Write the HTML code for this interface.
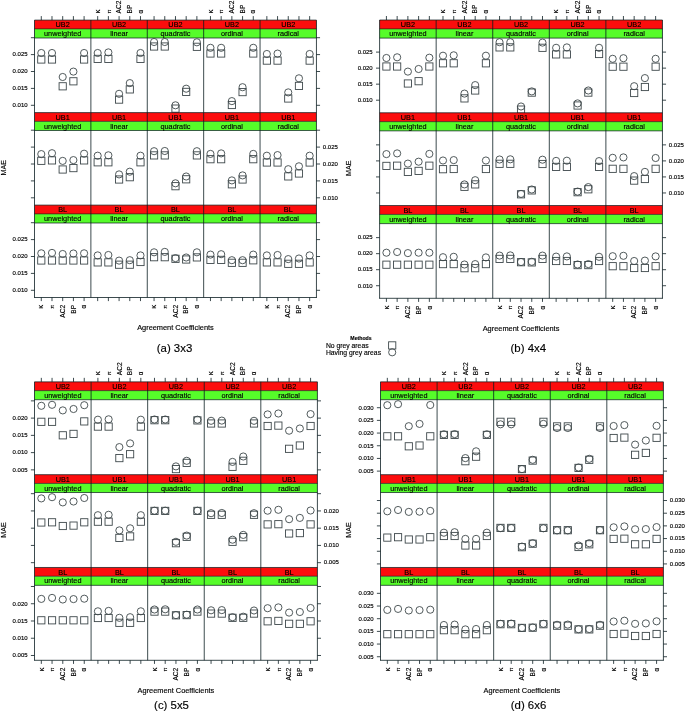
<!DOCTYPE html>
<html lang="en"><head><meta charset="utf-8"><title>MAE of agreement coefficients</title>
<style>
html,body{margin:0;padding:0;background:#fff;}
body{width:685px;height:712px;overflow:hidden;}
svg{display:block;font-family:"Liberation Sans", sans-serif;}
</style></head><body>
<svg width="685" height="712" viewBox="0 0 685 712">
<defs><filter id="soft" x="0" y="0" width="685" height="712" filterUnits="userSpaceOnUse"><feGaussianBlur stdDeviation="0.25"/></filter></defs>
<rect width="685" height="712" fill="#fff"/>
<g filter="url(#soft)">
<rect width="685" height="712" fill="#fff"/>
<g id="fig-a">
<rect x="34.5" y="20.1" width="281.95" height="8.95" fill="#fc1009"/>
<rect x="34.5" y="29.05" width="281.95" height="8.95" fill="#57fc2a"/>
<line x1="34.5" y1="20.1" x2="316.45" y2="20.1" stroke="rgba(6,24,30,0.78)" stroke-width="0.9"/>
<line x1="34.5" y1="28.9" x2="316.45" y2="28.9" stroke="rgba(6,24,30,0.78)" stroke-width="0.8"/>
<line x1="34.5" y1="38" x2="316.45" y2="38" stroke="rgba(6,24,30,0.78)" stroke-width="0.9"/>
<line x1="30.9" y1="37.7" x2="34.5" y2="37.7" stroke="rgba(6,24,30,0.78)" stroke-width="1"/>
<line x1="316.45" y1="37.7" x2="320.05" y2="37.7" stroke="rgba(6,24,30,0.78)" stroke-width="1"/>
<line x1="30.9" y1="54.6" x2="34.5" y2="54.6" stroke="rgba(6,24,30,0.78)" stroke-width="1"/>
<line x1="316.45" y1="54.6" x2="320.05" y2="54.6" stroke="rgba(6,24,30,0.78)" stroke-width="1"/>
<line x1="30.9" y1="71.5" x2="34.5" y2="71.5" stroke="rgba(6,24,30,0.78)" stroke-width="1"/>
<line x1="316.45" y1="71.5" x2="320.05" y2="71.5" stroke="rgba(6,24,30,0.78)" stroke-width="1"/>
<line x1="30.9" y1="88.4" x2="34.5" y2="88.4" stroke="rgba(6,24,30,0.78)" stroke-width="1"/>
<line x1="316.45" y1="88.4" x2="320.05" y2="88.4" stroke="rgba(6,24,30,0.78)" stroke-width="1"/>
<line x1="30.9" y1="105.3" x2="34.5" y2="105.3" stroke="rgba(6,24,30,0.78)" stroke-width="1"/>
<line x1="316.45" y1="105.3" x2="320.05" y2="105.3" stroke="rgba(6,24,30,0.78)" stroke-width="1"/>
<text x="27.6" y="56.4" font-size="6.0" text-anchor="end" fill="#000" stroke="#000" stroke-width="0.15">0.025</text>
<text x="27.6" y="73.3" font-size="6.0" text-anchor="end" fill="#000" stroke="#000" stroke-width="0.15">0.020</text>
<text x="27.6" y="90.2" font-size="6.0" text-anchor="end" fill="#000" stroke="#000" stroke-width="0.15">0.015</text>
<text x="27.6" y="107.1" font-size="6.0" text-anchor="end" fill="#000" stroke="#000" stroke-width="0.15">0.010</text>
<text x="62.7" y="27.18" font-size="7.3" text-anchor="middle" fill="#000" stroke="#000" stroke-width="0.13">UB2</text>
<text x="62.7" y="36.12" font-size="7.3" text-anchor="middle" fill="#000" stroke="#000" stroke-width="0.13">unweighted</text>
<line x1="41.29" y1="16.1" x2="41.29" y2="20.1" stroke="rgba(6,24,30,0.78)" stroke-width="1"/>
<rect x="37.69" y="55.9" width="7.2" height="7.2" fill="none" stroke="#3e484b" stroke-width="0.9"/>
<circle cx="41.29" cy="53" r="3.58" fill="none" stroke="#3e484b" stroke-width="0.9"/>
<line x1="51.99" y1="16.1" x2="51.99" y2="20.1" stroke="rgba(6,24,30,0.78)" stroke-width="1"/>
<rect x="48.39" y="55.9" width="7.2" height="7.2" fill="none" stroke="#3e484b" stroke-width="0.9"/>
<circle cx="51.99" cy="53" r="3.58" fill="none" stroke="#3e484b" stroke-width="0.9"/>
<line x1="62.7" y1="16.1" x2="62.7" y2="20.1" stroke="rgba(6,24,30,0.78)" stroke-width="1"/>
<rect x="59.09" y="82.7" width="7.2" height="7.2" fill="none" stroke="#3e484b" stroke-width="0.9"/>
<circle cx="62.7" cy="77" r="3.58" fill="none" stroke="#3e484b" stroke-width="0.9"/>
<line x1="73.4" y1="16.1" x2="73.4" y2="20.1" stroke="rgba(6,24,30,0.78)" stroke-width="1"/>
<rect x="69.8" y="77.7" width="7.2" height="7.2" fill="none" stroke="#3e484b" stroke-width="0.9"/>
<circle cx="73.4" cy="71.6" r="3.58" fill="none" stroke="#3e484b" stroke-width="0.9"/>
<line x1="84.1" y1="16.1" x2="84.1" y2="20.1" stroke="rgba(6,24,30,0.78)" stroke-width="1"/>
<rect x="80.5" y="55.9" width="7.2" height="7.2" fill="none" stroke="#3e484b" stroke-width="0.9"/>
<circle cx="84.1" cy="53" r="3.58" fill="none" stroke="#3e484b" stroke-width="0.9"/>
<text x="119.09" y="27.18" font-size="7.3" text-anchor="middle" fill="#000" stroke="#000" stroke-width="0.13">UB2</text>
<text x="119.09" y="36.12" font-size="7.3" text-anchor="middle" fill="#000" stroke="#000" stroke-width="0.13">linear</text>
<line x1="97.68" y1="16.1" x2="97.68" y2="20.1" stroke="rgba(6,24,30,0.78)" stroke-width="1"/>
<text x="99.88" y="13.5" font-size="7.8" transform="rotate(-90 99.88 13.5)" fill="#000" stroke="#000" stroke-width="0.15">κ</text>
<rect x="94.08" y="55.3" width="7.2" height="7.2" fill="none" stroke="#3e484b" stroke-width="0.9"/>
<circle cx="97.68" cy="53" r="3.58" fill="none" stroke="#3e484b" stroke-width="0.9"/>
<line x1="108.38" y1="16.1" x2="108.38" y2="20.1" stroke="rgba(6,24,30,0.78)" stroke-width="1"/>
<text x="110.58" y="13.5" font-size="5.6" transform="rotate(-90 110.58 13.5)" fill="#000" stroke="#000" stroke-width="0.15">π</text>
<rect x="104.78" y="55.3" width="7.2" height="7.2" fill="none" stroke="#3e484b" stroke-width="0.9"/>
<circle cx="108.38" cy="52.4" r="3.58" fill="none" stroke="#3e484b" stroke-width="0.9"/>
<line x1="119.09" y1="16.1" x2="119.09" y2="20.1" stroke="rgba(6,24,30,0.78)" stroke-width="1"/>
<text x="121.29" y="13.5" font-size="6.6" transform="rotate(-90 121.29 13.5)" fill="#000" stroke="#000" stroke-width="0.15">AC2</text>
<rect x="115.49" y="96" width="7.2" height="7.2" fill="none" stroke="#3e484b" stroke-width="0.9"/>
<circle cx="119.09" cy="93.8" r="3.58" fill="none" stroke="#3e484b" stroke-width="0.9"/>
<line x1="129.79" y1="16.1" x2="129.79" y2="20.1" stroke="rgba(6,24,30,0.78)" stroke-width="1"/>
<text x="131.99" y="13.5" font-size="6.6" transform="rotate(-90 131.99 13.5)" fill="#000" stroke="#000" stroke-width="0.15">BP</text>
<rect x="126.19" y="85.8" width="7.2" height="7.2" fill="none" stroke="#3e484b" stroke-width="0.9"/>
<circle cx="129.79" cy="83.1" r="3.58" fill="none" stroke="#3e484b" stroke-width="0.9"/>
<line x1="140.49" y1="16.1" x2="140.49" y2="20.1" stroke="rgba(6,24,30,0.78)" stroke-width="1"/>
<text x="142.69" y="13.5" font-size="6.4" transform="rotate(-90 142.69 13.5)" fill="#000" stroke="#000" stroke-width="0.15">α</text>
<rect x="136.89" y="55.3" width="7.2" height="7.2" fill="none" stroke="#3e484b" stroke-width="0.9"/>
<circle cx="140.49" cy="53" r="3.58" fill="none" stroke="#3e484b" stroke-width="0.9"/>
<text x="175.47" y="27.18" font-size="7.3" text-anchor="middle" fill="#000" stroke="#000" stroke-width="0.13">UB2</text>
<text x="175.47" y="36.12" font-size="7.3" text-anchor="middle" fill="#000" stroke="#000" stroke-width="0.13">quadratic</text>
<line x1="154.07" y1="16.1" x2="154.07" y2="20.1" stroke="rgba(6,24,30,0.78)" stroke-width="1"/>
<rect x="150.47" y="42.9" width="7.2" height="7.2" fill="none" stroke="#3e484b" stroke-width="0.9"/>
<circle cx="154.07" cy="42" r="3.58" fill="none" stroke="#3e484b" stroke-width="0.9"/>
<line x1="164.77" y1="16.1" x2="164.77" y2="20.1" stroke="rgba(6,24,30,0.78)" stroke-width="1"/>
<rect x="161.17" y="42.9" width="7.2" height="7.2" fill="none" stroke="#3e484b" stroke-width="0.9"/>
<circle cx="164.77" cy="42" r="3.58" fill="none" stroke="#3e484b" stroke-width="0.9"/>
<line x1="175.47" y1="16.1" x2="175.47" y2="20.1" stroke="rgba(6,24,30,0.78)" stroke-width="1"/>
<rect x="171.88" y="105" width="7.2" height="7.2" fill="none" stroke="#3e484b" stroke-width="0.9"/>
<circle cx="175.47" cy="105.3" r="3.58" fill="none" stroke="#3e484b" stroke-width="0.9"/>
<line x1="186.18" y1="16.1" x2="186.18" y2="20.1" stroke="rgba(6,24,30,0.78)" stroke-width="1"/>
<rect x="182.58" y="88.3" width="7.2" height="7.2" fill="none" stroke="#3e484b" stroke-width="0.9"/>
<circle cx="186.18" cy="88.7" r="3.58" fill="none" stroke="#3e484b" stroke-width="0.9"/>
<line x1="196.88" y1="16.1" x2="196.88" y2="20.1" stroke="rgba(6,24,30,0.78)" stroke-width="1"/>
<rect x="193.28" y="43.2" width="7.2" height="7.2" fill="none" stroke="#3e484b" stroke-width="0.9"/>
<circle cx="196.88" cy="42.3" r="3.58" fill="none" stroke="#3e484b" stroke-width="0.9"/>
<text x="231.87" y="27.18" font-size="7.3" text-anchor="middle" fill="#000" stroke="#000" stroke-width="0.13">UB2</text>
<text x="231.87" y="36.12" font-size="7.3" text-anchor="middle" fill="#000" stroke="#000" stroke-width="0.13">ordinal</text>
<line x1="210.46" y1="16.1" x2="210.46" y2="20.1" stroke="rgba(6,24,30,0.78)" stroke-width="1"/>
<text x="212.66" y="13.5" font-size="7.8" transform="rotate(-90 212.66 13.5)" fill="#000" stroke="#000" stroke-width="0.15">κ</text>
<rect x="206.86" y="49.9" width="7.2" height="7.2" fill="none" stroke="#3e484b" stroke-width="0.9"/>
<circle cx="210.46" cy="47.8" r="3.58" fill="none" stroke="#3e484b" stroke-width="0.9"/>
<line x1="221.16" y1="16.1" x2="221.16" y2="20.1" stroke="rgba(6,24,30,0.78)" stroke-width="1"/>
<text x="223.36" y="13.5" font-size="5.6" transform="rotate(-90 223.36 13.5)" fill="#000" stroke="#000" stroke-width="0.15">π</text>
<rect x="217.56" y="49.9" width="7.2" height="7.2" fill="none" stroke="#3e484b" stroke-width="0.9"/>
<circle cx="221.16" cy="47.8" r="3.58" fill="none" stroke="#3e484b" stroke-width="0.9"/>
<line x1="231.87" y1="16.1" x2="231.87" y2="20.1" stroke="rgba(6,24,30,0.78)" stroke-width="1"/>
<text x="234.06" y="13.5" font-size="6.6" transform="rotate(-90 234.06 13.5)" fill="#000" stroke="#000" stroke-width="0.15">AC2</text>
<rect x="228.27" y="101.4" width="7.2" height="7.2" fill="none" stroke="#3e484b" stroke-width="0.9"/>
<circle cx="231.87" cy="101.1" r="3.58" fill="none" stroke="#3e484b" stroke-width="0.9"/>
<line x1="242.57" y1="16.1" x2="242.57" y2="20.1" stroke="rgba(6,24,30,0.78)" stroke-width="1"/>
<text x="244.77" y="13.5" font-size="6.6" transform="rotate(-90 244.77 13.5)" fill="#000" stroke="#000" stroke-width="0.15">BP</text>
<rect x="238.97" y="88.5" width="7.2" height="7.2" fill="none" stroke="#3e484b" stroke-width="0.9"/>
<circle cx="242.57" cy="87.2" r="3.58" fill="none" stroke="#3e484b" stroke-width="0.9"/>
<line x1="253.27" y1="16.1" x2="253.27" y2="20.1" stroke="rgba(6,24,30,0.78)" stroke-width="1"/>
<text x="255.47" y="13.5" font-size="6.4" transform="rotate(-90 255.47 13.5)" fill="#000" stroke="#000" stroke-width="0.15">α</text>
<rect x="249.67" y="49.9" width="7.2" height="7.2" fill="none" stroke="#3e484b" stroke-width="0.9"/>
<circle cx="253.27" cy="47.8" r="3.58" fill="none" stroke="#3e484b" stroke-width="0.9"/>
<text x="288.25" y="27.18" font-size="7.3" text-anchor="middle" fill="#000" stroke="#000" stroke-width="0.13">UB2</text>
<text x="288.25" y="36.12" font-size="7.3" text-anchor="middle" fill="#000" stroke="#000" stroke-width="0.13">radical</text>
<line x1="266.85" y1="16.1" x2="266.85" y2="20.1" stroke="rgba(6,24,30,0.78)" stroke-width="1"/>
<rect x="263.25" y="57" width="7.2" height="7.2" fill="none" stroke="#3e484b" stroke-width="0.9"/>
<circle cx="266.85" cy="54" r="3.58" fill="none" stroke="#3e484b" stroke-width="0.9"/>
<line x1="277.55" y1="16.1" x2="277.55" y2="20.1" stroke="rgba(6,24,30,0.78)" stroke-width="1"/>
<rect x="273.95" y="57" width="7.2" height="7.2" fill="none" stroke="#3e484b" stroke-width="0.9"/>
<circle cx="277.55" cy="53.6" r="3.58" fill="none" stroke="#3e484b" stroke-width="0.9"/>
<line x1="288.25" y1="16.1" x2="288.25" y2="20.1" stroke="rgba(6,24,30,0.78)" stroke-width="1"/>
<rect x="284.65" y="94.9" width="7.2" height="7.2" fill="none" stroke="#3e484b" stroke-width="0.9"/>
<circle cx="288.25" cy="92.4" r="3.58" fill="none" stroke="#3e484b" stroke-width="0.9"/>
<line x1="298.96" y1="16.1" x2="298.96" y2="20.1" stroke="rgba(6,24,30,0.78)" stroke-width="1"/>
<rect x="295.36" y="82.3" width="7.2" height="7.2" fill="none" stroke="#3e484b" stroke-width="0.9"/>
<circle cx="298.96" cy="78.3" r="3.58" fill="none" stroke="#3e484b" stroke-width="0.9"/>
<line x1="309.66" y1="16.1" x2="309.66" y2="20.1" stroke="rgba(6,24,30,0.78)" stroke-width="1"/>
<rect x="306.06" y="57" width="7.2" height="7.2" fill="none" stroke="#3e484b" stroke-width="0.9"/>
<circle cx="309.66" cy="54" r="3.58" fill="none" stroke="#3e484b" stroke-width="0.9"/>
<rect x="34.5" y="112.6" width="281.95" height="8.95" fill="#fc1009"/>
<rect x="34.5" y="121.55" width="281.95" height="8.95" fill="#57fc2a"/>
<line x1="34.5" y1="112.6" x2="316.45" y2="112.6" stroke="rgba(6,24,30,0.78)" stroke-width="0.9"/>
<line x1="34.5" y1="121.4" x2="316.45" y2="121.4" stroke="rgba(6,24,30,0.78)" stroke-width="0.8"/>
<line x1="34.5" y1="130.5" x2="316.45" y2="130.5" stroke="rgba(6,24,30,0.78)" stroke-width="0.9"/>
<line x1="30.9" y1="130.2" x2="34.5" y2="130.2" stroke="rgba(6,24,30,0.78)" stroke-width="1"/>
<line x1="316.45" y1="130.2" x2="320.05" y2="130.2" stroke="rgba(6,24,30,0.78)" stroke-width="1"/>
<line x1="30.9" y1="147.1" x2="34.5" y2="147.1" stroke="rgba(6,24,30,0.78)" stroke-width="1"/>
<line x1="316.45" y1="147.1" x2="320.05" y2="147.1" stroke="rgba(6,24,30,0.78)" stroke-width="1"/>
<line x1="30.9" y1="164" x2="34.5" y2="164" stroke="rgba(6,24,30,0.78)" stroke-width="1"/>
<line x1="316.45" y1="164" x2="320.05" y2="164" stroke="rgba(6,24,30,0.78)" stroke-width="1"/>
<line x1="30.9" y1="180.9" x2="34.5" y2="180.9" stroke="rgba(6,24,30,0.78)" stroke-width="1"/>
<line x1="316.45" y1="180.9" x2="320.05" y2="180.9" stroke="rgba(6,24,30,0.78)" stroke-width="1"/>
<line x1="30.9" y1="197.8" x2="34.5" y2="197.8" stroke="rgba(6,24,30,0.78)" stroke-width="1"/>
<line x1="316.45" y1="197.8" x2="320.05" y2="197.8" stroke="rgba(6,24,30,0.78)" stroke-width="1"/>
<text x="322.85" y="148.9" font-size="6.0" fill="#000" stroke="#000" stroke-width="0.15">0.025</text>
<text x="322.85" y="165.8" font-size="6.0" fill="#000" stroke="#000" stroke-width="0.15">0.020</text>
<text x="322.85" y="182.7" font-size="6.0" fill="#000" stroke="#000" stroke-width="0.15">0.015</text>
<text x="322.85" y="199.6" font-size="6.0" fill="#000" stroke="#000" stroke-width="0.15">0.010</text>
<text x="62.7" y="119.67" font-size="7.3" text-anchor="middle" fill="#000" stroke="#000" stroke-width="0.13">UB1</text>
<text x="62.7" y="128.62" font-size="7.3" text-anchor="middle" fill="#000" stroke="#000" stroke-width="0.13">unweighted</text>
<rect x="37.69" y="157.2" width="7.2" height="7.2" fill="none" stroke="#3e484b" stroke-width="0.9"/>
<circle cx="41.29" cy="154.1" r="3.58" fill="none" stroke="#3e484b" stroke-width="0.9"/>
<rect x="48.39" y="156.8" width="7.2" height="7.2" fill="none" stroke="#3e484b" stroke-width="0.9"/>
<circle cx="51.99" cy="153.2" r="3.58" fill="none" stroke="#3e484b" stroke-width="0.9"/>
<rect x="59.09" y="165.9" width="7.2" height="7.2" fill="none" stroke="#3e484b" stroke-width="0.9"/>
<circle cx="62.7" cy="160.9" r="3.58" fill="none" stroke="#3e484b" stroke-width="0.9"/>
<rect x="69.8" y="164.5" width="7.2" height="7.2" fill="none" stroke="#3e484b" stroke-width="0.9"/>
<circle cx="73.4" cy="160.1" r="3.58" fill="none" stroke="#3e484b" stroke-width="0.9"/>
<rect x="80.5" y="156.8" width="7.2" height="7.2" fill="none" stroke="#3e484b" stroke-width="0.9"/>
<circle cx="84.1" cy="153.7" r="3.58" fill="none" stroke="#3e484b" stroke-width="0.9"/>
<text x="119.09" y="119.67" font-size="7.3" text-anchor="middle" fill="#000" stroke="#000" stroke-width="0.13">UB1</text>
<text x="119.09" y="128.62" font-size="7.3" text-anchor="middle" fill="#000" stroke="#000" stroke-width="0.13">linear</text>
<rect x="94.08" y="158.7" width="7.2" height="7.2" fill="none" stroke="#3e484b" stroke-width="0.9"/>
<circle cx="97.68" cy="155.7" r="3.58" fill="none" stroke="#3e484b" stroke-width="0.9"/>
<rect x="104.78" y="158.7" width="7.2" height="7.2" fill="none" stroke="#3e484b" stroke-width="0.9"/>
<circle cx="108.38" cy="155.3" r="3.58" fill="none" stroke="#3e484b" stroke-width="0.9"/>
<rect x="115.49" y="175.9" width="7.2" height="7.2" fill="none" stroke="#3e484b" stroke-width="0.9"/>
<circle cx="119.09" cy="174.4" r="3.58" fill="none" stroke="#3e484b" stroke-width="0.9"/>
<rect x="126.19" y="173.6" width="7.2" height="7.2" fill="none" stroke="#3e484b" stroke-width="0.9"/>
<circle cx="129.79" cy="171.7" r="3.58" fill="none" stroke="#3e484b" stroke-width="0.9"/>
<rect x="136.89" y="158.7" width="7.2" height="7.2" fill="none" stroke="#3e484b" stroke-width="0.9"/>
<circle cx="140.49" cy="155.7" r="3.58" fill="none" stroke="#3e484b" stroke-width="0.9"/>
<text x="175.47" y="119.67" font-size="7.3" text-anchor="middle" fill="#000" stroke="#000" stroke-width="0.13">UB1</text>
<text x="175.47" y="128.62" font-size="7.3" text-anchor="middle" fill="#000" stroke="#000" stroke-width="0.13">quadratic</text>
<rect x="150.47" y="151.8" width="7.2" height="7.2" fill="none" stroke="#3e484b" stroke-width="0.9"/>
<circle cx="154.07" cy="151.2" r="3.58" fill="none" stroke="#3e484b" stroke-width="0.9"/>
<rect x="161.17" y="151.8" width="7.2" height="7.2" fill="none" stroke="#3e484b" stroke-width="0.9"/>
<circle cx="164.77" cy="151" r="3.58" fill="none" stroke="#3e484b" stroke-width="0.9"/>
<rect x="171.88" y="182.6" width="7.2" height="7.2" fill="none" stroke="#3e484b" stroke-width="0.9"/>
<circle cx="175.47" cy="183.3" r="3.58" fill="none" stroke="#3e484b" stroke-width="0.9"/>
<rect x="182.58" y="175.7" width="7.2" height="7.2" fill="none" stroke="#3e484b" stroke-width="0.9"/>
<circle cx="186.18" cy="176.5" r="3.58" fill="none" stroke="#3e484b" stroke-width="0.9"/>
<rect x="193.28" y="151.8" width="7.2" height="7.2" fill="none" stroke="#3e484b" stroke-width="0.9"/>
<circle cx="196.88" cy="151.2" r="3.58" fill="none" stroke="#3e484b" stroke-width="0.9"/>
<text x="231.87" y="119.67" font-size="7.3" text-anchor="middle" fill="#000" stroke="#000" stroke-width="0.13">UB1</text>
<text x="231.87" y="128.62" font-size="7.3" text-anchor="middle" fill="#000" stroke="#000" stroke-width="0.13">ordinal</text>
<rect x="206.86" y="155.6" width="7.2" height="7.2" fill="none" stroke="#3e484b" stroke-width="0.9"/>
<circle cx="210.46" cy="153.9" r="3.58" fill="none" stroke="#3e484b" stroke-width="0.9"/>
<rect x="217.56" y="155.6" width="7.2" height="7.2" fill="none" stroke="#3e484b" stroke-width="0.9"/>
<circle cx="221.16" cy="153.4" r="3.58" fill="none" stroke="#3e484b" stroke-width="0.9"/>
<rect x="228.27" y="180.7" width="7.2" height="7.2" fill="none" stroke="#3e484b" stroke-width="0.9"/>
<circle cx="231.87" cy="180.4" r="3.58" fill="none" stroke="#3e484b" stroke-width="0.9"/>
<rect x="238.97" y="175.9" width="7.2" height="7.2" fill="none" stroke="#3e484b" stroke-width="0.9"/>
<circle cx="242.57" cy="175.4" r="3.58" fill="none" stroke="#3e484b" stroke-width="0.9"/>
<rect x="249.67" y="155.6" width="7.2" height="7.2" fill="none" stroke="#3e484b" stroke-width="0.9"/>
<circle cx="253.27" cy="153.9" r="3.58" fill="none" stroke="#3e484b" stroke-width="0.9"/>
<text x="288.25" y="119.67" font-size="7.3" text-anchor="middle" fill="#000" stroke="#000" stroke-width="0.13">UB1</text>
<text x="288.25" y="128.62" font-size="7.3" text-anchor="middle" fill="#000" stroke="#000" stroke-width="0.13">radical</text>
<rect x="263.25" y="158.9" width="7.2" height="7.2" fill="none" stroke="#3e484b" stroke-width="0.9"/>
<circle cx="266.85" cy="155.7" r="3.58" fill="none" stroke="#3e484b" stroke-width="0.9"/>
<rect x="273.95" y="158.9" width="7.2" height="7.2" fill="none" stroke="#3e484b" stroke-width="0.9"/>
<circle cx="277.55" cy="155.1" r="3.58" fill="none" stroke="#3e484b" stroke-width="0.9"/>
<rect x="284.65" y="172.8" width="7.2" height="7.2" fill="none" stroke="#3e484b" stroke-width="0.9"/>
<circle cx="288.25" cy="169.2" r="3.58" fill="none" stroke="#3e484b" stroke-width="0.9"/>
<rect x="295.36" y="169.9" width="7.2" height="7.2" fill="none" stroke="#3e484b" stroke-width="0.9"/>
<circle cx="298.96" cy="166.3" r="3.58" fill="none" stroke="#3e484b" stroke-width="0.9"/>
<rect x="306.06" y="158.9" width="7.2" height="7.2" fill="none" stroke="#3e484b" stroke-width="0.9"/>
<circle cx="309.66" cy="155.7" r="3.58" fill="none" stroke="#3e484b" stroke-width="0.9"/>
<rect x="34.5" y="205.1" width="281.95" height="8.95" fill="#fc1009"/>
<rect x="34.5" y="214.05" width="281.95" height="8.95" fill="#57fc2a"/>
<line x1="34.5" y1="205.1" x2="316.45" y2="205.1" stroke="rgba(6,24,30,0.78)" stroke-width="0.9"/>
<line x1="34.5" y1="213.9" x2="316.45" y2="213.9" stroke="rgba(6,24,30,0.78)" stroke-width="0.8"/>
<line x1="34.5" y1="223" x2="316.45" y2="223" stroke="rgba(6,24,30,0.78)" stroke-width="0.9"/>
<line x1="30.9" y1="222.7" x2="34.5" y2="222.7" stroke="rgba(6,24,30,0.78)" stroke-width="1"/>
<line x1="316.45" y1="222.7" x2="320.05" y2="222.7" stroke="rgba(6,24,30,0.78)" stroke-width="1"/>
<line x1="30.9" y1="239.6" x2="34.5" y2="239.6" stroke="rgba(6,24,30,0.78)" stroke-width="1"/>
<line x1="316.45" y1="239.6" x2="320.05" y2="239.6" stroke="rgba(6,24,30,0.78)" stroke-width="1"/>
<line x1="30.9" y1="256.5" x2="34.5" y2="256.5" stroke="rgba(6,24,30,0.78)" stroke-width="1"/>
<line x1="316.45" y1="256.5" x2="320.05" y2="256.5" stroke="rgba(6,24,30,0.78)" stroke-width="1"/>
<line x1="30.9" y1="273.4" x2="34.5" y2="273.4" stroke="rgba(6,24,30,0.78)" stroke-width="1"/>
<line x1="316.45" y1="273.4" x2="320.05" y2="273.4" stroke="rgba(6,24,30,0.78)" stroke-width="1"/>
<line x1="30.9" y1="290.3" x2="34.5" y2="290.3" stroke="rgba(6,24,30,0.78)" stroke-width="1"/>
<line x1="316.45" y1="290.3" x2="320.05" y2="290.3" stroke="rgba(6,24,30,0.78)" stroke-width="1"/>
<text x="27.6" y="241.4" font-size="6.0" text-anchor="end" fill="#000" stroke="#000" stroke-width="0.15">0.025</text>
<text x="27.6" y="258.3" font-size="6.0" text-anchor="end" fill="#000" stroke="#000" stroke-width="0.15">0.020</text>
<text x="27.6" y="275.2" font-size="6.0" text-anchor="end" fill="#000" stroke="#000" stroke-width="0.15">0.015</text>
<text x="27.6" y="292.1" font-size="6.0" text-anchor="end" fill="#000" stroke="#000" stroke-width="0.15">0.010</text>
<text x="62.7" y="212.17" font-size="7.3" text-anchor="middle" fill="#000" stroke="#000" stroke-width="0.13">BL</text>
<text x="62.7" y="221.12" font-size="7.3" text-anchor="middle" fill="#000" stroke="#000" stroke-width="0.13">unweighted</text>
<line x1="41.29" y1="297.5" x2="41.29" y2="301.1" stroke="rgba(6,24,30,0.78)" stroke-width="1"/>
<text x="43.49" y="304.9" font-size="7.8" text-anchor="end" transform="rotate(-90 43.49 304.9)" fill="#000" stroke="#000" stroke-width="0.15">κ</text>
<rect x="37.69" y="256.9" width="7.2" height="7.2" fill="none" stroke="#3e484b" stroke-width="0.9"/>
<circle cx="41.29" cy="253.3" r="3.58" fill="none" stroke="#3e484b" stroke-width="0.9"/>
<line x1="51.99" y1="297.5" x2="51.99" y2="301.1" stroke="rgba(6,24,30,0.78)" stroke-width="1"/>
<text x="54.19" y="304.9" font-size="5.6" text-anchor="end" transform="rotate(-90 54.19 304.9)" fill="#000" stroke="#000" stroke-width="0.15">π</text>
<rect x="48.39" y="256.9" width="7.2" height="7.2" fill="none" stroke="#3e484b" stroke-width="0.9"/>
<circle cx="51.99" cy="252.9" r="3.58" fill="none" stroke="#3e484b" stroke-width="0.9"/>
<line x1="62.7" y1="297.5" x2="62.7" y2="301.1" stroke="rgba(6,24,30,0.78)" stroke-width="1"/>
<text x="64.89" y="304.9" font-size="6.6" text-anchor="end" transform="rotate(-90 64.89 304.9)" fill="#000" stroke="#000" stroke-width="0.15">AC2</text>
<rect x="59.09" y="256.9" width="7.2" height="7.2" fill="none" stroke="#3e484b" stroke-width="0.9"/>
<circle cx="62.7" cy="254" r="3.58" fill="none" stroke="#3e484b" stroke-width="0.9"/>
<line x1="73.4" y1="297.5" x2="73.4" y2="301.1" stroke="rgba(6,24,30,0.78)" stroke-width="1"/>
<text x="75.6" y="304.9" font-size="6.6" text-anchor="end" transform="rotate(-90 75.6 304.9)" fill="#000" stroke="#000" stroke-width="0.15">BP</text>
<rect x="69.8" y="256.9" width="7.2" height="7.2" fill="none" stroke="#3e484b" stroke-width="0.9"/>
<circle cx="73.4" cy="253.5" r="3.58" fill="none" stroke="#3e484b" stroke-width="0.9"/>
<line x1="84.1" y1="297.5" x2="84.1" y2="301.1" stroke="rgba(6,24,30,0.78)" stroke-width="1"/>
<text x="86.3" y="304.9" font-size="6.4" text-anchor="end" transform="rotate(-90 86.3 304.9)" fill="#000" stroke="#000" stroke-width="0.15">α</text>
<rect x="80.5" y="256.9" width="7.2" height="7.2" fill="none" stroke="#3e484b" stroke-width="0.9"/>
<circle cx="84.1" cy="253.3" r="3.58" fill="none" stroke="#3e484b" stroke-width="0.9"/>
<text x="119.09" y="212.17" font-size="7.3" text-anchor="middle" fill="#000" stroke="#000" stroke-width="0.13">BL</text>
<text x="119.09" y="221.12" font-size="7.3" text-anchor="middle" fill="#000" stroke="#000" stroke-width="0.13">linear</text>
<line x1="97.68" y1="297.5" x2="97.68" y2="301.1" stroke="rgba(6,24,30,0.78)" stroke-width="1"/>
<rect x="94.08" y="258.8" width="7.2" height="7.2" fill="none" stroke="#3e484b" stroke-width="0.9"/>
<circle cx="97.68" cy="255.4" r="3.58" fill="none" stroke="#3e484b" stroke-width="0.9"/>
<line x1="108.38" y1="297.5" x2="108.38" y2="301.1" stroke="rgba(6,24,30,0.78)" stroke-width="1"/>
<rect x="104.78" y="258.8" width="7.2" height="7.2" fill="none" stroke="#3e484b" stroke-width="0.9"/>
<circle cx="108.38" cy="255" r="3.58" fill="none" stroke="#3e484b" stroke-width="0.9"/>
<line x1="119.09" y1="297.5" x2="119.09" y2="301.1" stroke="rgba(6,24,30,0.78)" stroke-width="1"/>
<rect x="115.49" y="261.1" width="7.2" height="7.2" fill="none" stroke="#3e484b" stroke-width="0.9"/>
<circle cx="119.09" cy="260.6" r="3.58" fill="none" stroke="#3e484b" stroke-width="0.9"/>
<line x1="129.79" y1="297.5" x2="129.79" y2="301.1" stroke="rgba(6,24,30,0.78)" stroke-width="1"/>
<rect x="126.19" y="261.1" width="7.2" height="7.2" fill="none" stroke="#3e484b" stroke-width="0.9"/>
<circle cx="129.79" cy="260.2" r="3.58" fill="none" stroke="#3e484b" stroke-width="0.9"/>
<line x1="140.49" y1="297.5" x2="140.49" y2="301.1" stroke="rgba(6,24,30,0.78)" stroke-width="1"/>
<rect x="136.89" y="258.4" width="7.2" height="7.2" fill="none" stroke="#3e484b" stroke-width="0.9"/>
<circle cx="140.49" cy="255.4" r="3.58" fill="none" stroke="#3e484b" stroke-width="0.9"/>
<text x="175.47" y="212.17" font-size="7.3" text-anchor="middle" fill="#000" stroke="#000" stroke-width="0.13">BL</text>
<text x="175.47" y="221.12" font-size="7.3" text-anchor="middle" fill="#000" stroke="#000" stroke-width="0.13">quadratic</text>
<line x1="154.07" y1="297.5" x2="154.07" y2="301.1" stroke="rgba(6,24,30,0.78)" stroke-width="1"/>
<text x="156.27" y="304.9" font-size="7.8" text-anchor="end" transform="rotate(-90 156.27 304.9)" fill="#000" stroke="#000" stroke-width="0.15">κ</text>
<rect x="150.47" y="253.6" width="7.2" height="7.2" fill="none" stroke="#3e484b" stroke-width="0.9"/>
<circle cx="154.07" cy="252.3" r="3.58" fill="none" stroke="#3e484b" stroke-width="0.9"/>
<line x1="164.77" y1="297.5" x2="164.77" y2="301.1" stroke="rgba(6,24,30,0.78)" stroke-width="1"/>
<text x="166.97" y="304.9" font-size="5.6" text-anchor="end" transform="rotate(-90 166.97 304.9)" fill="#000" stroke="#000" stroke-width="0.15">π</text>
<rect x="161.17" y="253.6" width="7.2" height="7.2" fill="none" stroke="#3e484b" stroke-width="0.9"/>
<circle cx="164.77" cy="251.9" r="3.58" fill="none" stroke="#3e484b" stroke-width="0.9"/>
<line x1="175.47" y1="297.5" x2="175.47" y2="301.1" stroke="rgba(6,24,30,0.78)" stroke-width="1"/>
<text x="177.67" y="304.9" font-size="6.6" text-anchor="end" transform="rotate(-90 177.67 304.9)" fill="#000" stroke="#000" stroke-width="0.15">AC2</text>
<rect x="171.88" y="255.2" width="7.2" height="7.2" fill="none" stroke="#3e484b" stroke-width="0.9"/>
<circle cx="175.47" cy="258.1" r="3.58" fill="none" stroke="#3e484b" stroke-width="0.9"/>
<line x1="186.18" y1="297.5" x2="186.18" y2="301.1" stroke="rgba(6,24,30,0.78)" stroke-width="1"/>
<text x="188.38" y="304.9" font-size="6.6" text-anchor="end" transform="rotate(-90 188.38 304.9)" fill="#000" stroke="#000" stroke-width="0.15">BP</text>
<rect x="182.58" y="255.9" width="7.2" height="7.2" fill="none" stroke="#3e484b" stroke-width="0.9"/>
<circle cx="186.18" cy="257.5" r="3.58" fill="none" stroke="#3e484b" stroke-width="0.9"/>
<line x1="196.88" y1="297.5" x2="196.88" y2="301.1" stroke="rgba(6,24,30,0.78)" stroke-width="1"/>
<text x="199.08" y="304.9" font-size="6.4" text-anchor="end" transform="rotate(-90 199.08 304.9)" fill="#000" stroke="#000" stroke-width="0.15">α</text>
<rect x="193.28" y="253.8" width="7.2" height="7.2" fill="none" stroke="#3e484b" stroke-width="0.9"/>
<circle cx="196.88" cy="252.3" r="3.58" fill="none" stroke="#3e484b" stroke-width="0.9"/>
<text x="231.87" y="212.17" font-size="7.3" text-anchor="middle" fill="#000" stroke="#000" stroke-width="0.13">BL</text>
<text x="231.87" y="221.12" font-size="7.3" text-anchor="middle" fill="#000" stroke="#000" stroke-width="0.13">ordinal</text>
<line x1="210.46" y1="297.5" x2="210.46" y2="301.1" stroke="rgba(6,24,30,0.78)" stroke-width="1"/>
<rect x="206.86" y="256.3" width="7.2" height="7.2" fill="none" stroke="#3e484b" stroke-width="0.9"/>
<circle cx="210.46" cy="254.6" r="3.58" fill="none" stroke="#3e484b" stroke-width="0.9"/>
<line x1="221.16" y1="297.5" x2="221.16" y2="301.1" stroke="rgba(6,24,30,0.78)" stroke-width="1"/>
<rect x="217.56" y="256.3" width="7.2" height="7.2" fill="none" stroke="#3e484b" stroke-width="0.9"/>
<circle cx="221.16" cy="254.2" r="3.58" fill="none" stroke="#3e484b" stroke-width="0.9"/>
<line x1="231.87" y1="297.5" x2="231.87" y2="301.1" stroke="rgba(6,24,30,0.78)" stroke-width="1"/>
<rect x="228.27" y="259.2" width="7.2" height="7.2" fill="none" stroke="#3e484b" stroke-width="0.9"/>
<circle cx="231.87" cy="260.2" r="3.58" fill="none" stroke="#3e484b" stroke-width="0.9"/>
<line x1="242.57" y1="297.5" x2="242.57" y2="301.1" stroke="rgba(6,24,30,0.78)" stroke-width="1"/>
<rect x="238.97" y="259.2" width="7.2" height="7.2" fill="none" stroke="#3e484b" stroke-width="0.9"/>
<circle cx="242.57" cy="260.2" r="3.58" fill="none" stroke="#3e484b" stroke-width="0.9"/>
<line x1="253.27" y1="297.5" x2="253.27" y2="301.1" stroke="rgba(6,24,30,0.78)" stroke-width="1"/>
<rect x="249.67" y="256.7" width="7.2" height="7.2" fill="none" stroke="#3e484b" stroke-width="0.9"/>
<circle cx="253.27" cy="254.6" r="3.58" fill="none" stroke="#3e484b" stroke-width="0.9"/>
<text x="288.25" y="212.17" font-size="7.3" text-anchor="middle" fill="#000" stroke="#000" stroke-width="0.13">BL</text>
<text x="288.25" y="221.12" font-size="7.3" text-anchor="middle" fill="#000" stroke="#000" stroke-width="0.13">radical</text>
<line x1="266.85" y1="297.5" x2="266.85" y2="301.1" stroke="rgba(6,24,30,0.78)" stroke-width="1"/>
<text x="269.05" y="304.9" font-size="7.8" text-anchor="end" transform="rotate(-90 269.05 304.9)" fill="#000" stroke="#000" stroke-width="0.15">κ</text>
<rect x="263.25" y="258.8" width="7.2" height="7.2" fill="none" stroke="#3e484b" stroke-width="0.9"/>
<circle cx="266.85" cy="255.4" r="3.58" fill="none" stroke="#3e484b" stroke-width="0.9"/>
<line x1="277.55" y1="297.5" x2="277.55" y2="301.1" stroke="rgba(6,24,30,0.78)" stroke-width="1"/>
<text x="279.75" y="304.9" font-size="5.6" text-anchor="end" transform="rotate(-90 279.75 304.9)" fill="#000" stroke="#000" stroke-width="0.15">π</text>
<rect x="273.95" y="258.8" width="7.2" height="7.2" fill="none" stroke="#3e484b" stroke-width="0.9"/>
<circle cx="277.55" cy="255" r="3.58" fill="none" stroke="#3e484b" stroke-width="0.9"/>
<line x1="288.25" y1="297.5" x2="288.25" y2="301.1" stroke="rgba(6,24,30,0.78)" stroke-width="1"/>
<text x="290.45" y="304.9" font-size="6.6" text-anchor="end" transform="rotate(-90 290.45 304.9)" fill="#000" stroke="#000" stroke-width="0.15">AC2</text>
<rect x="284.65" y="260.2" width="7.2" height="7.2" fill="none" stroke="#3e484b" stroke-width="0.9"/>
<circle cx="288.25" cy="259.1" r="3.58" fill="none" stroke="#3e484b" stroke-width="0.9"/>
<line x1="298.96" y1="297.5" x2="298.96" y2="301.1" stroke="rgba(6,24,30,0.78)" stroke-width="1"/>
<text x="301.16" y="304.9" font-size="6.6" text-anchor="end" transform="rotate(-90 301.16 304.9)" fill="#000" stroke="#000" stroke-width="0.15">BP</text>
<rect x="295.36" y="260.2" width="7.2" height="7.2" fill="none" stroke="#3e484b" stroke-width="0.9"/>
<circle cx="298.96" cy="258.5" r="3.58" fill="none" stroke="#3e484b" stroke-width="0.9"/>
<line x1="309.66" y1="297.5" x2="309.66" y2="301.1" stroke="rgba(6,24,30,0.78)" stroke-width="1"/>
<text x="311.86" y="304.9" font-size="6.4" text-anchor="end" transform="rotate(-90 311.86 304.9)" fill="#000" stroke="#000" stroke-width="0.15">α</text>
<rect x="306.06" y="258.8" width="7.2" height="7.2" fill="none" stroke="#3e484b" stroke-width="0.9"/>
<circle cx="309.66" cy="255.4" r="3.58" fill="none" stroke="#3e484b" stroke-width="0.9"/>
<line x1="34.5" y1="20.1" x2="34.5" y2="297.5" stroke="rgba(6,24,30,0.78)" stroke-width="1"/>
<line x1="90.89" y1="20.1" x2="90.89" y2="297.5" stroke="rgba(6,24,30,0.78)" stroke-width="1"/>
<line x1="147.28" y1="20.1" x2="147.28" y2="297.5" stroke="rgba(6,24,30,0.78)" stroke-width="1"/>
<line x1="203.67" y1="20.1" x2="203.67" y2="297.5" stroke="rgba(6,24,30,0.78)" stroke-width="1"/>
<line x1="260.06" y1="20.1" x2="260.06" y2="297.5" stroke="rgba(6,24,30,0.78)" stroke-width="1"/>
<line x1="316.45" y1="20.1" x2="316.45" y2="297.5" stroke="rgba(6,24,30,0.78)" stroke-width="1"/>
<line x1="34" y1="297.5" x2="316.95" y2="297.5" stroke="rgba(6,24,30,0.78)" stroke-width="1"/>
<text x="175.47" y="329.8" font-size="7.4" text-anchor="middle" fill="#000" stroke="#000" stroke-width="0.15">Agreement Coefficients</text>
<text x="174.5" y="352.2" font-size="11.4" text-anchor="middle" fill="#000" stroke="#000" stroke-width="0.15">(a) 3x3</text>
<text x="6" y="167.75" font-size="7.1" text-anchor="middle" transform="rotate(-90 6 167.75)" fill="#000" stroke="#000" stroke-width="0.15">MAE</text>
</g>
<g id="fig-b">
<rect x="379.6" y="20" width="282.85" height="9.05" fill="#fc1009"/>
<rect x="379.6" y="29.05" width="282.85" height="9.05" fill="#57fc2a"/>
<line x1="379.6" y1="20" x2="662.45" y2="20" stroke="rgba(6,24,30,0.78)" stroke-width="0.9"/>
<line x1="379.6" y1="28.9" x2="662.45" y2="28.9" stroke="rgba(6,24,30,0.78)" stroke-width="0.8"/>
<line x1="379.6" y1="38.1" x2="662.45" y2="38.1" stroke="rgba(6,24,30,0.78)" stroke-width="0.9"/>
<line x1="376" y1="52.1" x2="379.6" y2="52.1" stroke="rgba(6,24,30,0.78)" stroke-width="1"/>
<line x1="662.45" y1="52.1" x2="666.05" y2="52.1" stroke="rgba(6,24,30,0.78)" stroke-width="1"/>
<line x1="376" y1="68.13" x2="379.6" y2="68.13" stroke="rgba(6,24,30,0.78)" stroke-width="1"/>
<line x1="662.45" y1="68.13" x2="666.05" y2="68.13" stroke="rgba(6,24,30,0.78)" stroke-width="1"/>
<line x1="376" y1="84.16" x2="379.6" y2="84.16" stroke="rgba(6,24,30,0.78)" stroke-width="1"/>
<line x1="662.45" y1="84.16" x2="666.05" y2="84.16" stroke="rgba(6,24,30,0.78)" stroke-width="1"/>
<line x1="376" y1="100.19" x2="379.6" y2="100.19" stroke="rgba(6,24,30,0.78)" stroke-width="1"/>
<line x1="662.45" y1="100.19" x2="666.05" y2="100.19" stroke="rgba(6,24,30,0.78)" stroke-width="1"/>
<text x="372.7" y="53.9" font-size="6.0" text-anchor="end" fill="#000" stroke="#000" stroke-width="0.15">0.025</text>
<text x="372.7" y="69.93" font-size="6.0" text-anchor="end" fill="#000" stroke="#000" stroke-width="0.15">0.020</text>
<text x="372.7" y="85.96" font-size="6.0" text-anchor="end" fill="#000" stroke="#000" stroke-width="0.15">0.015</text>
<text x="372.7" y="101.99" font-size="6.0" text-anchor="end" fill="#000" stroke="#000" stroke-width="0.15">0.010</text>
<text x="407.89" y="27.12" font-size="7.3" text-anchor="middle" fill="#000" stroke="#000" stroke-width="0.13">UB2</text>
<text x="407.89" y="36.18" font-size="7.3" text-anchor="middle" fill="#000" stroke="#000" stroke-width="0.13">unweighted</text>
<line x1="386.42" y1="16" x2="386.42" y2="20" stroke="rgba(6,24,30,0.78)" stroke-width="1"/>
<rect x="382.82" y="62.9" width="7.2" height="7.2" fill="none" stroke="#3e484b" stroke-width="0.9"/>
<circle cx="386.42" cy="58" r="3.58" fill="none" stroke="#3e484b" stroke-width="0.9"/>
<line x1="397.15" y1="16" x2="397.15" y2="20" stroke="rgba(6,24,30,0.78)" stroke-width="1"/>
<rect x="393.55" y="62.9" width="7.2" height="7.2" fill="none" stroke="#3e484b" stroke-width="0.9"/>
<circle cx="397.15" cy="57.3" r="3.58" fill="none" stroke="#3e484b" stroke-width="0.9"/>
<line x1="407.89" y1="16" x2="407.89" y2="20" stroke="rgba(6,24,30,0.78)" stroke-width="1"/>
<rect x="404.29" y="79.9" width="7.2" height="7.2" fill="none" stroke="#3e484b" stroke-width="0.9"/>
<circle cx="407.89" cy="71.6" r="3.58" fill="none" stroke="#3e484b" stroke-width="0.9"/>
<line x1="418.62" y1="16" x2="418.62" y2="20" stroke="rgba(6,24,30,0.78)" stroke-width="1"/>
<rect x="415.02" y="77.6" width="7.2" height="7.2" fill="none" stroke="#3e484b" stroke-width="0.9"/>
<circle cx="418.62" cy="69" r="3.58" fill="none" stroke="#3e484b" stroke-width="0.9"/>
<line x1="429.35" y1="16" x2="429.35" y2="20" stroke="rgba(6,24,30,0.78)" stroke-width="1"/>
<rect x="425.75" y="62.9" width="7.2" height="7.2" fill="none" stroke="#3e484b" stroke-width="0.9"/>
<circle cx="429.35" cy="57.7" r="3.58" fill="none" stroke="#3e484b" stroke-width="0.9"/>
<text x="464.46" y="27.12" font-size="7.3" text-anchor="middle" fill="#000" stroke="#000" stroke-width="0.13">UB2</text>
<text x="464.46" y="36.18" font-size="7.3" text-anchor="middle" fill="#000" stroke="#000" stroke-width="0.13">linear</text>
<line x1="442.99" y1="16" x2="442.99" y2="20" stroke="rgba(6,24,30,0.78)" stroke-width="1"/>
<text x="445.19" y="13.4" font-size="7.8" transform="rotate(-90 445.19 13.4)" fill="#000" stroke="#000" stroke-width="0.15">κ</text>
<rect x="439.39" y="59.7" width="7.2" height="7.2" fill="none" stroke="#3e484b" stroke-width="0.9"/>
<circle cx="442.99" cy="55.7" r="3.58" fill="none" stroke="#3e484b" stroke-width="0.9"/>
<line x1="453.72" y1="16" x2="453.72" y2="20" stroke="rgba(6,24,30,0.78)" stroke-width="1"/>
<text x="455.92" y="13.4" font-size="5.6" transform="rotate(-90 455.92 13.4)" fill="#000" stroke="#000" stroke-width="0.15">π</text>
<rect x="450.12" y="59.7" width="7.2" height="7.2" fill="none" stroke="#3e484b" stroke-width="0.9"/>
<circle cx="453.72" cy="55.3" r="3.58" fill="none" stroke="#3e484b" stroke-width="0.9"/>
<line x1="464.46" y1="16" x2="464.46" y2="20" stroke="rgba(6,24,30,0.78)" stroke-width="1"/>
<text x="466.66" y="13.4" font-size="6.6" transform="rotate(-90 466.66 13.4)" fill="#000" stroke="#000" stroke-width="0.15">AC2</text>
<rect x="460.86" y="94.8" width="7.2" height="7.2" fill="none" stroke="#3e484b" stroke-width="0.9"/>
<circle cx="464.46" cy="93.6" r="3.58" fill="none" stroke="#3e484b" stroke-width="0.9"/>
<line x1="475.19" y1="16" x2="475.19" y2="20" stroke="rgba(6,24,30,0.78)" stroke-width="1"/>
<text x="477.39" y="13.4" font-size="6.6" transform="rotate(-90 477.39 13.4)" fill="#000" stroke="#000" stroke-width="0.15">BP</text>
<rect x="471.59" y="86.9" width="7.2" height="7.2" fill="none" stroke="#3e484b" stroke-width="0.9"/>
<circle cx="475.19" cy="85.1" r="3.58" fill="none" stroke="#3e484b" stroke-width="0.9"/>
<line x1="485.92" y1="16" x2="485.92" y2="20" stroke="rgba(6,24,30,0.78)" stroke-width="1"/>
<text x="488.12" y="13.4" font-size="6.4" transform="rotate(-90 488.12 13.4)" fill="#000" stroke="#000" stroke-width="0.15">α</text>
<rect x="482.32" y="59.7" width="7.2" height="7.2" fill="none" stroke="#3e484b" stroke-width="0.9"/>
<circle cx="485.92" cy="55.7" r="3.58" fill="none" stroke="#3e484b" stroke-width="0.9"/>
<text x="521.02" y="27.12" font-size="7.3" text-anchor="middle" fill="#000" stroke="#000" stroke-width="0.13">UB2</text>
<text x="521.02" y="36.18" font-size="7.3" text-anchor="middle" fill="#000" stroke="#000" stroke-width="0.13">quadratic</text>
<line x1="499.56" y1="16" x2="499.56" y2="20" stroke="rgba(6,24,30,0.78)" stroke-width="1"/>
<rect x="495.96" y="43.8" width="7.2" height="7.2" fill="none" stroke="#3e484b" stroke-width="0.9"/>
<circle cx="499.56" cy="42.2" r="3.58" fill="none" stroke="#3e484b" stroke-width="0.9"/>
<line x1="510.29" y1="16" x2="510.29" y2="20" stroke="rgba(6,24,30,0.78)" stroke-width="1"/>
<rect x="506.69" y="43.8" width="7.2" height="7.2" fill="none" stroke="#3e484b" stroke-width="0.9"/>
<circle cx="510.29" cy="42.2" r="3.58" fill="none" stroke="#3e484b" stroke-width="0.9"/>
<line x1="521.02" y1="16" x2="521.02" y2="20" stroke="rgba(6,24,30,0.78)" stroke-width="1"/>
<rect x="517.42" y="106" width="7.2" height="7.2" fill="none" stroke="#3e484b" stroke-width="0.9"/>
<circle cx="521.02" cy="106.5" r="3.58" fill="none" stroke="#3e484b" stroke-width="0.9"/>
<line x1="531.76" y1="16" x2="531.76" y2="20" stroke="rgba(6,24,30,0.78)" stroke-width="1"/>
<rect x="528.16" y="89" width="7.2" height="7.2" fill="none" stroke="#3e484b" stroke-width="0.9"/>
<circle cx="531.76" cy="91.4" r="3.58" fill="none" stroke="#3e484b" stroke-width="0.9"/>
<line x1="542.49" y1="16" x2="542.49" y2="20" stroke="rgba(6,24,30,0.78)" stroke-width="1"/>
<rect x="538.89" y="44.2" width="7.2" height="7.2" fill="none" stroke="#3e484b" stroke-width="0.9"/>
<circle cx="542.49" cy="42.6" r="3.58" fill="none" stroke="#3e484b" stroke-width="0.9"/>
<text x="577.6" y="27.12" font-size="7.3" text-anchor="middle" fill="#000" stroke="#000" stroke-width="0.13">UB2</text>
<text x="577.6" y="36.18" font-size="7.3" text-anchor="middle" fill="#000" stroke="#000" stroke-width="0.13">ordinal</text>
<line x1="556.13" y1="16" x2="556.13" y2="20" stroke="rgba(6,24,30,0.78)" stroke-width="1"/>
<text x="558.33" y="13.4" font-size="7.8" transform="rotate(-90 558.33 13.4)" fill="#000" stroke="#000" stroke-width="0.15">κ</text>
<rect x="552.53" y="50.8" width="7.2" height="7.2" fill="none" stroke="#3e484b" stroke-width="0.9"/>
<circle cx="556.13" cy="47.8" r="3.58" fill="none" stroke="#3e484b" stroke-width="0.9"/>
<line x1="566.86" y1="16" x2="566.86" y2="20" stroke="rgba(6,24,30,0.78)" stroke-width="1"/>
<text x="569.06" y="13.4" font-size="5.6" transform="rotate(-90 569.06 13.4)" fill="#000" stroke="#000" stroke-width="0.15">π</text>
<rect x="563.26" y="50.8" width="7.2" height="7.2" fill="none" stroke="#3e484b" stroke-width="0.9"/>
<circle cx="566.86" cy="47.4" r="3.58" fill="none" stroke="#3e484b" stroke-width="0.9"/>
<line x1="577.6" y1="16" x2="577.6" y2="20" stroke="rgba(6,24,30,0.78)" stroke-width="1"/>
<text x="579.8" y="13.4" font-size="6.6" transform="rotate(-90 579.8 13.4)" fill="#000" stroke="#000" stroke-width="0.15">AC2</text>
<rect x="574" y="101.9" width="7.2" height="7.2" fill="none" stroke="#3e484b" stroke-width="0.9"/>
<circle cx="577.6" cy="103.4" r="3.58" fill="none" stroke="#3e484b" stroke-width="0.9"/>
<line x1="588.33" y1="16" x2="588.33" y2="20" stroke="rgba(6,24,30,0.78)" stroke-width="1"/>
<text x="590.53" y="13.4" font-size="6.6" transform="rotate(-90 590.53 13.4)" fill="#000" stroke="#000" stroke-width="0.15">BP</text>
<rect x="584.73" y="89" width="7.2" height="7.2" fill="none" stroke="#3e484b" stroke-width="0.9"/>
<circle cx="588.33" cy="90.5" r="3.58" fill="none" stroke="#3e484b" stroke-width="0.9"/>
<line x1="599.06" y1="16" x2="599.06" y2="20" stroke="rgba(6,24,30,0.78)" stroke-width="1"/>
<text x="601.26" y="13.4" font-size="6.4" transform="rotate(-90 601.26 13.4)" fill="#000" stroke="#000" stroke-width="0.15">α</text>
<rect x="595.46" y="50.4" width="7.2" height="7.2" fill="none" stroke="#3e484b" stroke-width="0.9"/>
<circle cx="599.06" cy="47.8" r="3.58" fill="none" stroke="#3e484b" stroke-width="0.9"/>
<text x="634.17" y="27.12" font-size="7.3" text-anchor="middle" fill="#000" stroke="#000" stroke-width="0.13">UB2</text>
<text x="634.17" y="36.18" font-size="7.3" text-anchor="middle" fill="#000" stroke="#000" stroke-width="0.13">radical</text>
<line x1="612.7" y1="16" x2="612.7" y2="20" stroke="rgba(6,24,30,0.78)" stroke-width="1"/>
<rect x="609.1" y="63.1" width="7.2" height="7.2" fill="none" stroke="#3e484b" stroke-width="0.9"/>
<circle cx="612.7" cy="58.8" r="3.58" fill="none" stroke="#3e484b" stroke-width="0.9"/>
<line x1="623.43" y1="16" x2="623.43" y2="20" stroke="rgba(6,24,30,0.78)" stroke-width="1"/>
<rect x="619.83" y="63.1" width="7.2" height="7.2" fill="none" stroke="#3e484b" stroke-width="0.9"/>
<circle cx="623.43" cy="58.2" r="3.58" fill="none" stroke="#3e484b" stroke-width="0.9"/>
<line x1="634.17" y1="16" x2="634.17" y2="20" stroke="rgba(6,24,30,0.78)" stroke-width="1"/>
<rect x="630.57" y="89.4" width="7.2" height="7.2" fill="none" stroke="#3e484b" stroke-width="0.9"/>
<circle cx="634.17" cy="86.2" r="3.58" fill="none" stroke="#3e484b" stroke-width="0.9"/>
<line x1="644.9" y1="16" x2="644.9" y2="20" stroke="rgba(6,24,30,0.78)" stroke-width="1"/>
<rect x="641.3" y="83.4" width="7.2" height="7.2" fill="none" stroke="#3e484b" stroke-width="0.9"/>
<circle cx="644.9" cy="78.1" r="3.58" fill="none" stroke="#3e484b" stroke-width="0.9"/>
<line x1="655.63" y1="16" x2="655.63" y2="20" stroke="rgba(6,24,30,0.78)" stroke-width="1"/>
<rect x="652.03" y="63.1" width="7.2" height="7.2" fill="none" stroke="#3e484b" stroke-width="0.9"/>
<circle cx="655.63" cy="58.8" r="3.58" fill="none" stroke="#3e484b" stroke-width="0.9"/>
<rect x="379.6" y="112.77" width="282.85" height="9.05" fill="#fc1009"/>
<rect x="379.6" y="121.82" width="282.85" height="9.05" fill="#57fc2a"/>
<line x1="379.6" y1="112.77" x2="662.45" y2="112.77" stroke="rgba(6,24,30,0.78)" stroke-width="0.9"/>
<line x1="379.6" y1="121.67" x2="662.45" y2="121.67" stroke="rgba(6,24,30,0.78)" stroke-width="0.8"/>
<line x1="379.6" y1="130.87" x2="662.45" y2="130.87" stroke="rgba(6,24,30,0.78)" stroke-width="0.9"/>
<line x1="376" y1="144.87" x2="379.6" y2="144.87" stroke="rgba(6,24,30,0.78)" stroke-width="1"/>
<line x1="662.45" y1="144.87" x2="666.05" y2="144.87" stroke="rgba(6,24,30,0.78)" stroke-width="1"/>
<line x1="376" y1="160.9" x2="379.6" y2="160.9" stroke="rgba(6,24,30,0.78)" stroke-width="1"/>
<line x1="662.45" y1="160.9" x2="666.05" y2="160.9" stroke="rgba(6,24,30,0.78)" stroke-width="1"/>
<line x1="376" y1="176.93" x2="379.6" y2="176.93" stroke="rgba(6,24,30,0.78)" stroke-width="1"/>
<line x1="662.45" y1="176.93" x2="666.05" y2="176.93" stroke="rgba(6,24,30,0.78)" stroke-width="1"/>
<line x1="376" y1="192.96" x2="379.6" y2="192.96" stroke="rgba(6,24,30,0.78)" stroke-width="1"/>
<line x1="662.45" y1="192.96" x2="666.05" y2="192.96" stroke="rgba(6,24,30,0.78)" stroke-width="1"/>
<text x="668.85" y="146.67" font-size="6.0" fill="#000" stroke="#000" stroke-width="0.15">0.025</text>
<text x="668.85" y="162.7" font-size="6.0" fill="#000" stroke="#000" stroke-width="0.15">0.020</text>
<text x="668.85" y="178.73" font-size="6.0" fill="#000" stroke="#000" stroke-width="0.15">0.015</text>
<text x="668.85" y="194.76" font-size="6.0" fill="#000" stroke="#000" stroke-width="0.15">0.010</text>
<text x="407.89" y="119.89" font-size="7.3" text-anchor="middle" fill="#000" stroke="#000" stroke-width="0.13">UB1</text>
<text x="407.89" y="128.94" font-size="7.3" text-anchor="middle" fill="#000" stroke="#000" stroke-width="0.13">unweighted</text>
<rect x="382.82" y="162.3" width="7.2" height="7.2" fill="none" stroke="#3e484b" stroke-width="0.9"/>
<circle cx="386.42" cy="154.1" r="3.58" fill="none" stroke="#3e484b" stroke-width="0.9"/>
<rect x="393.55" y="162.1" width="7.2" height="7.2" fill="none" stroke="#3e484b" stroke-width="0.9"/>
<circle cx="397.15" cy="153.4" r="3.58" fill="none" stroke="#3e484b" stroke-width="0.9"/>
<rect x="404.29" y="168.3" width="7.2" height="7.2" fill="none" stroke="#3e484b" stroke-width="0.9"/>
<circle cx="407.89" cy="163.6" r="3.58" fill="none" stroke="#3e484b" stroke-width="0.9"/>
<rect x="415.02" y="167.3" width="7.2" height="7.2" fill="none" stroke="#3e484b" stroke-width="0.9"/>
<circle cx="418.62" cy="161.7" r="3.58" fill="none" stroke="#3e484b" stroke-width="0.9"/>
<rect x="425.75" y="162.1" width="7.2" height="7.2" fill="none" stroke="#3e484b" stroke-width="0.9"/>
<circle cx="429.35" cy="153.9" r="3.58" fill="none" stroke="#3e484b" stroke-width="0.9"/>
<text x="464.46" y="119.89" font-size="7.3" text-anchor="middle" fill="#000" stroke="#000" stroke-width="0.13">UB1</text>
<text x="464.46" y="128.94" font-size="7.3" text-anchor="middle" fill="#000" stroke="#000" stroke-width="0.13">linear</text>
<rect x="439.39" y="165.6" width="7.2" height="7.2" fill="none" stroke="#3e484b" stroke-width="0.9"/>
<circle cx="442.99" cy="160.5" r="3.58" fill="none" stroke="#3e484b" stroke-width="0.9"/>
<rect x="450.12" y="165.4" width="7.2" height="7.2" fill="none" stroke="#3e484b" stroke-width="0.9"/>
<circle cx="453.72" cy="160.1" r="3.58" fill="none" stroke="#3e484b" stroke-width="0.9"/>
<rect x="460.86" y="183.2" width="7.2" height="7.2" fill="none" stroke="#3e484b" stroke-width="0.9"/>
<circle cx="464.46" cy="184.4" r="3.58" fill="none" stroke="#3e484b" stroke-width="0.9"/>
<rect x="471.59" y="180.8" width="7.2" height="7.2" fill="none" stroke="#3e484b" stroke-width="0.9"/>
<circle cx="475.19" cy="180.2" r="3.58" fill="none" stroke="#3e484b" stroke-width="0.9"/>
<rect x="482.32" y="165.4" width="7.2" height="7.2" fill="none" stroke="#3e484b" stroke-width="0.9"/>
<circle cx="485.92" cy="160.5" r="3.58" fill="none" stroke="#3e484b" stroke-width="0.9"/>
<text x="521.02" y="119.89" font-size="7.3" text-anchor="middle" fill="#000" stroke="#000" stroke-width="0.13">UB1</text>
<text x="521.02" y="128.94" font-size="7.3" text-anchor="middle" fill="#000" stroke="#000" stroke-width="0.13">quadratic</text>
<rect x="495.96" y="160.2" width="7.2" height="7.2" fill="none" stroke="#3e484b" stroke-width="0.9"/>
<circle cx="499.56" cy="159.5" r="3.58" fill="none" stroke="#3e484b" stroke-width="0.9"/>
<rect x="506.69" y="160.2" width="7.2" height="7.2" fill="none" stroke="#3e484b" stroke-width="0.9"/>
<circle cx="510.29" cy="159.3" r="3.58" fill="none" stroke="#3e484b" stroke-width="0.9"/>
<rect x="517.42" y="190.7" width="7.2" height="7.2" fill="none" stroke="#3e484b" stroke-width="0.9"/>
<circle cx="521.02" cy="193.9" r="3.58" fill="none" stroke="#3e484b" stroke-width="0.9"/>
<rect x="528.16" y="186.8" width="7.2" height="7.2" fill="none" stroke="#3e484b" stroke-width="0.9"/>
<circle cx="531.76" cy="189.5" r="3.58" fill="none" stroke="#3e484b" stroke-width="0.9"/>
<rect x="538.89" y="160.4" width="7.2" height="7.2" fill="none" stroke="#3e484b" stroke-width="0.9"/>
<circle cx="542.49" cy="159.7" r="3.58" fill="none" stroke="#3e484b" stroke-width="0.9"/>
<text x="577.6" y="119.89" font-size="7.3" text-anchor="middle" fill="#000" stroke="#000" stroke-width="0.13">UB1</text>
<text x="577.6" y="128.94" font-size="7.3" text-anchor="middle" fill="#000" stroke="#000" stroke-width="0.13">ordinal</text>
<rect x="552.53" y="163.3" width="7.2" height="7.2" fill="none" stroke="#3e484b" stroke-width="0.9"/>
<circle cx="556.13" cy="160.9" r="3.58" fill="none" stroke="#3e484b" stroke-width="0.9"/>
<rect x="563.26" y="163.3" width="7.2" height="7.2" fill="none" stroke="#3e484b" stroke-width="0.9"/>
<circle cx="566.86" cy="160.7" r="3.58" fill="none" stroke="#3e484b" stroke-width="0.9"/>
<rect x="574" y="188.6" width="7.2" height="7.2" fill="none" stroke="#3e484b" stroke-width="0.9"/>
<circle cx="577.6" cy="191.6" r="3.58" fill="none" stroke="#3e484b" stroke-width="0.9"/>
<rect x="584.73" y="185.7" width="7.2" height="7.2" fill="none" stroke="#3e484b" stroke-width="0.9"/>
<circle cx="588.33" cy="187.1" r="3.58" fill="none" stroke="#3e484b" stroke-width="0.9"/>
<rect x="595.46" y="163.3" width="7.2" height="7.2" fill="none" stroke="#3e484b" stroke-width="0.9"/>
<circle cx="599.06" cy="161.1" r="3.58" fill="none" stroke="#3e484b" stroke-width="0.9"/>
<text x="634.17" y="119.89" font-size="7.3" text-anchor="middle" fill="#000" stroke="#000" stroke-width="0.13">UB1</text>
<text x="634.17" y="128.94" font-size="7.3" text-anchor="middle" fill="#000" stroke="#000" stroke-width="0.13">radical</text>
<rect x="609.1" y="165.2" width="7.2" height="7.2" fill="none" stroke="#3e484b" stroke-width="0.9"/>
<circle cx="612.7" cy="157.8" r="3.58" fill="none" stroke="#3e484b" stroke-width="0.9"/>
<rect x="619.83" y="165.2" width="7.2" height="7.2" fill="none" stroke="#3e484b" stroke-width="0.9"/>
<circle cx="623.43" cy="157.4" r="3.58" fill="none" stroke="#3e484b" stroke-width="0.9"/>
<rect x="630.57" y="177" width="7.2" height="7.2" fill="none" stroke="#3e484b" stroke-width="0.9"/>
<circle cx="634.17" cy="176.1" r="3.58" fill="none" stroke="#3e484b" stroke-width="0.9"/>
<rect x="641.3" y="175.4" width="7.2" height="7.2" fill="none" stroke="#3e484b" stroke-width="0.9"/>
<circle cx="644.9" cy="171.9" r="3.58" fill="none" stroke="#3e484b" stroke-width="0.9"/>
<rect x="652.03" y="165.2" width="7.2" height="7.2" fill="none" stroke="#3e484b" stroke-width="0.9"/>
<circle cx="655.63" cy="158" r="3.58" fill="none" stroke="#3e484b" stroke-width="0.9"/>
<rect x="379.6" y="205.53" width="282.85" height="9.05" fill="#fc1009"/>
<rect x="379.6" y="214.58" width="282.85" height="9.05" fill="#57fc2a"/>
<line x1="379.6" y1="205.53" x2="662.45" y2="205.53" stroke="rgba(6,24,30,0.78)" stroke-width="0.9"/>
<line x1="379.6" y1="214.43" x2="662.45" y2="214.43" stroke="rgba(6,24,30,0.78)" stroke-width="0.8"/>
<line x1="379.6" y1="223.63" x2="662.45" y2="223.63" stroke="rgba(6,24,30,0.78)" stroke-width="0.9"/>
<line x1="376" y1="237.63" x2="379.6" y2="237.63" stroke="rgba(6,24,30,0.78)" stroke-width="1"/>
<line x1="662.45" y1="237.63" x2="666.05" y2="237.63" stroke="rgba(6,24,30,0.78)" stroke-width="1"/>
<line x1="376" y1="253.66" x2="379.6" y2="253.66" stroke="rgba(6,24,30,0.78)" stroke-width="1"/>
<line x1="662.45" y1="253.66" x2="666.05" y2="253.66" stroke="rgba(6,24,30,0.78)" stroke-width="1"/>
<line x1="376" y1="269.69" x2="379.6" y2="269.69" stroke="rgba(6,24,30,0.78)" stroke-width="1"/>
<line x1="662.45" y1="269.69" x2="666.05" y2="269.69" stroke="rgba(6,24,30,0.78)" stroke-width="1"/>
<line x1="376" y1="285.72" x2="379.6" y2="285.72" stroke="rgba(6,24,30,0.78)" stroke-width="1"/>
<line x1="662.45" y1="285.72" x2="666.05" y2="285.72" stroke="rgba(6,24,30,0.78)" stroke-width="1"/>
<text x="372.7" y="239.43" font-size="6.0" text-anchor="end" fill="#000" stroke="#000" stroke-width="0.15">0.025</text>
<text x="372.7" y="255.46" font-size="6.0" text-anchor="end" fill="#000" stroke="#000" stroke-width="0.15">0.020</text>
<text x="372.7" y="271.49" font-size="6.0" text-anchor="end" fill="#000" stroke="#000" stroke-width="0.15">0.015</text>
<text x="372.7" y="287.52" font-size="6.0" text-anchor="end" fill="#000" stroke="#000" stroke-width="0.15">0.010</text>
<text x="407.89" y="212.66" font-size="7.3" text-anchor="middle" fill="#000" stroke="#000" stroke-width="0.13">BL</text>
<text x="407.89" y="221.71" font-size="7.3" text-anchor="middle" fill="#000" stroke="#000" stroke-width="0.13">unweighted</text>
<line x1="386.42" y1="298.3" x2="386.42" y2="301.9" stroke="rgba(6,24,30,0.78)" stroke-width="1"/>
<text x="388.62" y="305.7" font-size="7.8" text-anchor="end" transform="rotate(-90 388.62 305.7)" fill="#000" stroke="#000" stroke-width="0.15">κ</text>
<rect x="382.82" y="261.1" width="7.2" height="7.2" fill="none" stroke="#3e484b" stroke-width="0.9"/>
<circle cx="386.42" cy="252.7" r="3.58" fill="none" stroke="#3e484b" stroke-width="0.9"/>
<line x1="397.15" y1="298.3" x2="397.15" y2="301.9" stroke="rgba(6,24,30,0.78)" stroke-width="1"/>
<text x="399.35" y="305.7" font-size="5.6" text-anchor="end" transform="rotate(-90 399.35 305.7)" fill="#000" stroke="#000" stroke-width="0.15">π</text>
<rect x="393.55" y="261.1" width="7.2" height="7.2" fill="none" stroke="#3e484b" stroke-width="0.9"/>
<circle cx="397.15" cy="252" r="3.58" fill="none" stroke="#3e484b" stroke-width="0.9"/>
<line x1="407.89" y1="298.3" x2="407.89" y2="301.9" stroke="rgba(6,24,30,0.78)" stroke-width="1"/>
<text x="410.09" y="305.7" font-size="6.6" text-anchor="end" transform="rotate(-90 410.09 305.7)" fill="#000" stroke="#000" stroke-width="0.15">AC2</text>
<rect x="404.29" y="261.1" width="7.2" height="7.2" fill="none" stroke="#3e484b" stroke-width="0.9"/>
<circle cx="407.89" cy="253.1" r="3.58" fill="none" stroke="#3e484b" stroke-width="0.9"/>
<line x1="418.62" y1="298.3" x2="418.62" y2="301.9" stroke="rgba(6,24,30,0.78)" stroke-width="1"/>
<text x="420.82" y="305.7" font-size="6.6" text-anchor="end" transform="rotate(-90 420.82 305.7)" fill="#000" stroke="#000" stroke-width="0.15">BP</text>
<rect x="415.02" y="261.1" width="7.2" height="7.2" fill="none" stroke="#3e484b" stroke-width="0.9"/>
<circle cx="418.62" cy="252.7" r="3.58" fill="none" stroke="#3e484b" stroke-width="0.9"/>
<line x1="429.35" y1="298.3" x2="429.35" y2="301.9" stroke="rgba(6,24,30,0.78)" stroke-width="1"/>
<text x="431.55" y="305.7" font-size="6.4" text-anchor="end" transform="rotate(-90 431.55 305.7)" fill="#000" stroke="#000" stroke-width="0.15">α</text>
<rect x="425.75" y="261.1" width="7.2" height="7.2" fill="none" stroke="#3e484b" stroke-width="0.9"/>
<circle cx="429.35" cy="252.7" r="3.58" fill="none" stroke="#3e484b" stroke-width="0.9"/>
<text x="464.46" y="212.66" font-size="7.3" text-anchor="middle" fill="#000" stroke="#000" stroke-width="0.13">BL</text>
<text x="464.46" y="221.71" font-size="7.3" text-anchor="middle" fill="#000" stroke="#000" stroke-width="0.13">linear</text>
<line x1="442.99" y1="298.3" x2="442.99" y2="301.9" stroke="rgba(6,24,30,0.78)" stroke-width="1"/>
<rect x="439.39" y="260.5" width="7.2" height="7.2" fill="none" stroke="#3e484b" stroke-width="0.9"/>
<circle cx="442.99" cy="257.2" r="3.58" fill="none" stroke="#3e484b" stroke-width="0.9"/>
<line x1="453.72" y1="298.3" x2="453.72" y2="301.9" stroke="rgba(6,24,30,0.78)" stroke-width="1"/>
<rect x="450.12" y="260.5" width="7.2" height="7.2" fill="none" stroke="#3e484b" stroke-width="0.9"/>
<circle cx="453.72" cy="256.8" r="3.58" fill="none" stroke="#3e484b" stroke-width="0.9"/>
<line x1="464.46" y1="298.3" x2="464.46" y2="301.9" stroke="rgba(6,24,30,0.78)" stroke-width="1"/>
<rect x="460.86" y="264.6" width="7.2" height="7.2" fill="none" stroke="#3e484b" stroke-width="0.9"/>
<circle cx="464.46" cy="264.5" r="3.58" fill="none" stroke="#3e484b" stroke-width="0.9"/>
<line x1="475.19" y1="298.3" x2="475.19" y2="301.9" stroke="rgba(6,24,30,0.78)" stroke-width="1"/>
<rect x="471.59" y="264.6" width="7.2" height="7.2" fill="none" stroke="#3e484b" stroke-width="0.9"/>
<circle cx="475.19" cy="264.1" r="3.58" fill="none" stroke="#3e484b" stroke-width="0.9"/>
<line x1="485.92" y1="298.3" x2="485.92" y2="301.9" stroke="rgba(6,24,30,0.78)" stroke-width="1"/>
<rect x="482.32" y="260.5" width="7.2" height="7.2" fill="none" stroke="#3e484b" stroke-width="0.9"/>
<circle cx="485.92" cy="257.4" r="3.58" fill="none" stroke="#3e484b" stroke-width="0.9"/>
<text x="521.02" y="212.66" font-size="7.3" text-anchor="middle" fill="#000" stroke="#000" stroke-width="0.13">BL</text>
<text x="521.02" y="221.71" font-size="7.3" text-anchor="middle" fill="#000" stroke="#000" stroke-width="0.13">quadratic</text>
<line x1="499.56" y1="298.3" x2="499.56" y2="301.9" stroke="rgba(6,24,30,0.78)" stroke-width="1"/>
<text x="501.76" y="305.7" font-size="7.8" text-anchor="end" transform="rotate(-90 501.76 305.7)" fill="#000" stroke="#000" stroke-width="0.15">κ</text>
<rect x="495.96" y="255.3" width="7.2" height="7.2" fill="none" stroke="#3e484b" stroke-width="0.9"/>
<circle cx="499.56" cy="255.6" r="3.58" fill="none" stroke="#3e484b" stroke-width="0.9"/>
<line x1="510.29" y1="298.3" x2="510.29" y2="301.9" stroke="rgba(6,24,30,0.78)" stroke-width="1"/>
<text x="512.49" y="305.7" font-size="5.6" text-anchor="end" transform="rotate(-90 512.49 305.7)" fill="#000" stroke="#000" stroke-width="0.15">π</text>
<rect x="506.69" y="255.3" width="7.2" height="7.2" fill="none" stroke="#3e484b" stroke-width="0.9"/>
<circle cx="510.29" cy="255.4" r="3.58" fill="none" stroke="#3e484b" stroke-width="0.9"/>
<line x1="521.02" y1="298.3" x2="521.02" y2="301.9" stroke="rgba(6,24,30,0.78)" stroke-width="1"/>
<text x="523.23" y="305.7" font-size="6.6" text-anchor="end" transform="rotate(-90 523.23 305.7)" fill="#000" stroke="#000" stroke-width="0.15">AC2</text>
<rect x="517.42" y="258.6" width="7.2" height="7.2" fill="none" stroke="#3e484b" stroke-width="0.9"/>
<circle cx="521.02" cy="262" r="3.58" fill="none" stroke="#3e484b" stroke-width="0.9"/>
<line x1="531.76" y1="298.3" x2="531.76" y2="301.9" stroke="rgba(6,24,30,0.78)" stroke-width="1"/>
<text x="533.96" y="305.7" font-size="6.6" text-anchor="end" transform="rotate(-90 533.96 305.7)" fill="#000" stroke="#000" stroke-width="0.15">BP</text>
<rect x="528.16" y="258.8" width="7.2" height="7.2" fill="none" stroke="#3e484b" stroke-width="0.9"/>
<circle cx="531.76" cy="261.8" r="3.58" fill="none" stroke="#3e484b" stroke-width="0.9"/>
<line x1="542.49" y1="298.3" x2="542.49" y2="301.9" stroke="rgba(6,24,30,0.78)" stroke-width="1"/>
<text x="544.69" y="305.7" font-size="6.4" text-anchor="end" transform="rotate(-90 544.69 305.7)" fill="#000" stroke="#000" stroke-width="0.15">α</text>
<rect x="538.89" y="255.3" width="7.2" height="7.2" fill="none" stroke="#3e484b" stroke-width="0.9"/>
<circle cx="542.49" cy="255.6" r="3.58" fill="none" stroke="#3e484b" stroke-width="0.9"/>
<text x="577.6" y="212.66" font-size="7.3" text-anchor="middle" fill="#000" stroke="#000" stroke-width="0.13">BL</text>
<text x="577.6" y="221.71" font-size="7.3" text-anchor="middle" fill="#000" stroke="#000" stroke-width="0.13">ordinal</text>
<line x1="556.13" y1="298.3" x2="556.13" y2="301.9" stroke="rgba(6,24,30,0.78)" stroke-width="1"/>
<rect x="552.53" y="257.4" width="7.2" height="7.2" fill="none" stroke="#3e484b" stroke-width="0.9"/>
<circle cx="556.13" cy="256.6" r="3.58" fill="none" stroke="#3e484b" stroke-width="0.9"/>
<line x1="566.86" y1="298.3" x2="566.86" y2="301.9" stroke="rgba(6,24,30,0.78)" stroke-width="1"/>
<rect x="563.26" y="257.4" width="7.2" height="7.2" fill="none" stroke="#3e484b" stroke-width="0.9"/>
<circle cx="566.86" cy="256.4" r="3.58" fill="none" stroke="#3e484b" stroke-width="0.9"/>
<line x1="577.6" y1="298.3" x2="577.6" y2="301.9" stroke="rgba(6,24,30,0.78)" stroke-width="1"/>
<rect x="574" y="261.5" width="7.2" height="7.2" fill="none" stroke="#3e484b" stroke-width="0.9"/>
<circle cx="577.6" cy="264.5" r="3.58" fill="none" stroke="#3e484b" stroke-width="0.9"/>
<line x1="588.33" y1="298.3" x2="588.33" y2="301.9" stroke="rgba(6,24,30,0.78)" stroke-width="1"/>
<rect x="584.73" y="261.5" width="7.2" height="7.2" fill="none" stroke="#3e484b" stroke-width="0.9"/>
<circle cx="588.33" cy="264.1" r="3.58" fill="none" stroke="#3e484b" stroke-width="0.9"/>
<line x1="599.06" y1="298.3" x2="599.06" y2="301.9" stroke="rgba(6,24,30,0.78)" stroke-width="1"/>
<rect x="595.46" y="257.4" width="7.2" height="7.2" fill="none" stroke="#3e484b" stroke-width="0.9"/>
<circle cx="599.06" cy="256.8" r="3.58" fill="none" stroke="#3e484b" stroke-width="0.9"/>
<text x="634.17" y="212.66" font-size="7.3" text-anchor="middle" fill="#000" stroke="#000" stroke-width="0.13">BL</text>
<text x="634.17" y="221.71" font-size="7.3" text-anchor="middle" fill="#000" stroke="#000" stroke-width="0.13">radical</text>
<line x1="612.7" y1="298.3" x2="612.7" y2="301.9" stroke="rgba(6,24,30,0.78)" stroke-width="1"/>
<text x="614.9" y="305.7" font-size="7.8" text-anchor="end" transform="rotate(-90 614.9 305.7)" fill="#000" stroke="#000" stroke-width="0.15">κ</text>
<rect x="609.1" y="262.6" width="7.2" height="7.2" fill="none" stroke="#3e484b" stroke-width="0.9"/>
<circle cx="612.7" cy="256.2" r="3.58" fill="none" stroke="#3e484b" stroke-width="0.9"/>
<line x1="623.43" y1="298.3" x2="623.43" y2="301.9" stroke="rgba(6,24,30,0.78)" stroke-width="1"/>
<text x="625.63" y="305.7" font-size="5.6" text-anchor="end" transform="rotate(-90 625.63 305.7)" fill="#000" stroke="#000" stroke-width="0.15">π</text>
<rect x="619.83" y="262.6" width="7.2" height="7.2" fill="none" stroke="#3e484b" stroke-width="0.9"/>
<circle cx="623.43" cy="255.8" r="3.58" fill="none" stroke="#3e484b" stroke-width="0.9"/>
<line x1="634.17" y1="298.3" x2="634.17" y2="301.9" stroke="rgba(6,24,30,0.78)" stroke-width="1"/>
<text x="636.37" y="305.7" font-size="6.6" text-anchor="end" transform="rotate(-90 636.37 305.7)" fill="#000" stroke="#000" stroke-width="0.15">AC2</text>
<rect x="630.57" y="264.4" width="7.2" height="7.2" fill="none" stroke="#3e484b" stroke-width="0.9"/>
<circle cx="634.17" cy="261" r="3.58" fill="none" stroke="#3e484b" stroke-width="0.9"/>
<line x1="644.9" y1="298.3" x2="644.9" y2="301.9" stroke="rgba(6,24,30,0.78)" stroke-width="1"/>
<text x="647.1" y="305.7" font-size="6.6" text-anchor="end" transform="rotate(-90 647.1 305.7)" fill="#000" stroke="#000" stroke-width="0.15">BP</text>
<rect x="641.3" y="264.4" width="7.2" height="7.2" fill="none" stroke="#3e484b" stroke-width="0.9"/>
<circle cx="644.9" cy="260.6" r="3.58" fill="none" stroke="#3e484b" stroke-width="0.9"/>
<line x1="655.63" y1="298.3" x2="655.63" y2="301.9" stroke="rgba(6,24,30,0.78)" stroke-width="1"/>
<text x="657.83" y="305.7" font-size="6.4" text-anchor="end" transform="rotate(-90 657.83 305.7)" fill="#000" stroke="#000" stroke-width="0.15">α</text>
<rect x="652.03" y="262.6" width="7.2" height="7.2" fill="none" stroke="#3e484b" stroke-width="0.9"/>
<circle cx="655.63" cy="256.4" r="3.58" fill="none" stroke="#3e484b" stroke-width="0.9"/>
<line x1="379.6" y1="20" x2="379.6" y2="298.3" stroke="rgba(6,24,30,0.78)" stroke-width="1"/>
<line x1="436.17" y1="20" x2="436.17" y2="298.3" stroke="rgba(6,24,30,0.78)" stroke-width="1"/>
<line x1="492.74" y1="20" x2="492.74" y2="298.3" stroke="rgba(6,24,30,0.78)" stroke-width="1"/>
<line x1="549.31" y1="20" x2="549.31" y2="298.3" stroke="rgba(6,24,30,0.78)" stroke-width="1"/>
<line x1="605.88" y1="20" x2="605.88" y2="298.3" stroke="rgba(6,24,30,0.78)" stroke-width="1"/>
<line x1="662.45" y1="20" x2="662.45" y2="298.3" stroke="rgba(6,24,30,0.78)" stroke-width="1"/>
<line x1="379.1" y1="298.3" x2="662.95" y2="298.3" stroke="rgba(6,24,30,0.78)" stroke-width="1"/>
<text x="521.03" y="330.6" font-size="7.4" text-anchor="middle" fill="#000" stroke="#000" stroke-width="0.15">Agreement Coefficients</text>
<text x="528.3" y="352.2" font-size="11.4" text-anchor="middle" fill="#000" stroke="#000" stroke-width="0.15">(b) 4x4</text>
<text x="351" y="168.2" font-size="7.1" text-anchor="middle" transform="rotate(-90 351 168.2)" fill="#000" stroke="#000" stroke-width="0.15">MAE</text>
</g>
<g id="fig-c">
<rect x="34.5" y="381.85" width="282.9" height="8.93" fill="#fc1009"/>
<rect x="34.5" y="390.78" width="282.9" height="8.93" fill="#57fc2a"/>
<line x1="34.5" y1="381.85" x2="317.4" y2="381.85" stroke="rgba(6,24,30,0.78)" stroke-width="0.9"/>
<line x1="34.5" y1="390.63" x2="317.4" y2="390.63" stroke="rgba(6,24,30,0.78)" stroke-width="0.8"/>
<line x1="34.5" y1="399.71" x2="317.4" y2="399.71" stroke="rgba(6,24,30,0.78)" stroke-width="0.9"/>
<line x1="30.9" y1="400.86" x2="34.5" y2="400.86" stroke="rgba(6,24,30,0.78)" stroke-width="1"/>
<line x1="317.4" y1="400.86" x2="321" y2="400.86" stroke="rgba(6,24,30,0.78)" stroke-width="1"/>
<line x1="30.9" y1="418.11" x2="34.5" y2="418.11" stroke="rgba(6,24,30,0.78)" stroke-width="1"/>
<line x1="317.4" y1="418.11" x2="321" y2="418.11" stroke="rgba(6,24,30,0.78)" stroke-width="1"/>
<line x1="30.9" y1="435.36" x2="34.5" y2="435.36" stroke="rgba(6,24,30,0.78)" stroke-width="1"/>
<line x1="317.4" y1="435.36" x2="321" y2="435.36" stroke="rgba(6,24,30,0.78)" stroke-width="1"/>
<line x1="30.9" y1="452.61" x2="34.5" y2="452.61" stroke="rgba(6,24,30,0.78)" stroke-width="1"/>
<line x1="317.4" y1="452.61" x2="321" y2="452.61" stroke="rgba(6,24,30,0.78)" stroke-width="1"/>
<line x1="30.9" y1="469.86" x2="34.5" y2="469.86" stroke="rgba(6,24,30,0.78)" stroke-width="1"/>
<line x1="317.4" y1="469.86" x2="321" y2="469.86" stroke="rgba(6,24,30,0.78)" stroke-width="1"/>
<text x="27.6" y="419.91" font-size="6.0" text-anchor="end" fill="#000" stroke="#000" stroke-width="0.15">0.020</text>
<text x="27.6" y="437.16" font-size="6.0" text-anchor="end" fill="#000" stroke="#000" stroke-width="0.15">0.015</text>
<text x="27.6" y="454.41" font-size="6.0" text-anchor="end" fill="#000" stroke="#000" stroke-width="0.15">0.010</text>
<text x="27.6" y="471.66" font-size="6.0" text-anchor="end" fill="#000" stroke="#000" stroke-width="0.15">0.005</text>
<text x="62.79" y="388.92" font-size="7.3" text-anchor="middle" fill="#000" stroke="#000" stroke-width="0.13">UB2</text>
<text x="62.79" y="397.85" font-size="7.3" text-anchor="middle" fill="#000" stroke="#000" stroke-width="0.13">unweighted</text>
<line x1="41.32" y1="377.85" x2="41.32" y2="381.85" stroke="rgba(6,24,30,0.78)" stroke-width="1"/>
<rect x="37.72" y="418.2" width="7.2" height="7.2" fill="none" stroke="#3e484b" stroke-width="0.9"/>
<circle cx="41.32" cy="405.8" r="3.58" fill="none" stroke="#3e484b" stroke-width="0.9"/>
<line x1="52.05" y1="377.85" x2="52.05" y2="381.85" stroke="rgba(6,24,30,0.78)" stroke-width="1"/>
<rect x="48.45" y="418.2" width="7.2" height="7.2" fill="none" stroke="#3e484b" stroke-width="0.9"/>
<circle cx="52.05" cy="404.8" r="3.58" fill="none" stroke="#3e484b" stroke-width="0.9"/>
<line x1="62.79" y1="377.85" x2="62.79" y2="381.85" stroke="rgba(6,24,30,0.78)" stroke-width="1"/>
<rect x="59.19" y="431.7" width="7.2" height="7.2" fill="none" stroke="#3e484b" stroke-width="0.9"/>
<circle cx="62.79" cy="410.4" r="3.58" fill="none" stroke="#3e484b" stroke-width="0.9"/>
<line x1="73.53" y1="377.85" x2="73.53" y2="381.85" stroke="rgba(6,24,30,0.78)" stroke-width="1"/>
<rect x="69.93" y="430.3" width="7.2" height="7.2" fill="none" stroke="#3e484b" stroke-width="0.9"/>
<circle cx="73.53" cy="409" r="3.58" fill="none" stroke="#3e484b" stroke-width="0.9"/>
<line x1="84.26" y1="377.85" x2="84.26" y2="381.85" stroke="rgba(6,24,30,0.78)" stroke-width="1"/>
<rect x="80.66" y="417.8" width="7.2" height="7.2" fill="none" stroke="#3e484b" stroke-width="0.9"/>
<circle cx="84.26" cy="405.2" r="3.58" fill="none" stroke="#3e484b" stroke-width="0.9"/>
<text x="119.37" y="388.92" font-size="7.3" text-anchor="middle" fill="#000" stroke="#000" stroke-width="0.13">UB2</text>
<text x="119.37" y="397.85" font-size="7.3" text-anchor="middle" fill="#000" stroke="#000" stroke-width="0.13">linear</text>
<line x1="97.9" y1="377.85" x2="97.9" y2="381.85" stroke="rgba(6,24,30,0.78)" stroke-width="1"/>
<text x="100.1" y="375.25" font-size="7.8" transform="rotate(-90 100.1 375.25)" fill="#000" stroke="#000" stroke-width="0.15">κ</text>
<rect x="94.3" y="423" width="7.2" height="7.2" fill="none" stroke="#3e484b" stroke-width="0.9"/>
<circle cx="97.9" cy="419.7" r="3.58" fill="none" stroke="#3e484b" stroke-width="0.9"/>
<line x1="108.63" y1="377.85" x2="108.63" y2="381.85" stroke="rgba(6,24,30,0.78)" stroke-width="1"/>
<text x="110.83" y="375.25" font-size="5.6" transform="rotate(-90 110.83 375.25)" fill="#000" stroke="#000" stroke-width="0.15">π</text>
<rect x="105.03" y="423" width="7.2" height="7.2" fill="none" stroke="#3e484b" stroke-width="0.9"/>
<circle cx="108.63" cy="419.3" r="3.58" fill="none" stroke="#3e484b" stroke-width="0.9"/>
<line x1="119.37" y1="377.85" x2="119.37" y2="381.85" stroke="rgba(6,24,30,0.78)" stroke-width="1"/>
<text x="121.57" y="375.25" font-size="6.6" transform="rotate(-90 121.57 375.25)" fill="#000" stroke="#000" stroke-width="0.15">AC2</text>
<rect x="115.77" y="454.5" width="7.2" height="7.2" fill="none" stroke="#3e484b" stroke-width="0.9"/>
<circle cx="119.37" cy="447.1" r="3.58" fill="none" stroke="#3e484b" stroke-width="0.9"/>
<line x1="130.11" y1="377.85" x2="130.11" y2="381.85" stroke="rgba(6,24,30,0.78)" stroke-width="1"/>
<text x="132.31" y="375.25" font-size="6.6" transform="rotate(-90 132.31 375.25)" fill="#000" stroke="#000" stroke-width="0.15">BP</text>
<rect x="126.51" y="450.6" width="7.2" height="7.2" fill="none" stroke="#3e484b" stroke-width="0.9"/>
<circle cx="130.11" cy="443.4" r="3.58" fill="none" stroke="#3e484b" stroke-width="0.9"/>
<line x1="140.84" y1="377.85" x2="140.84" y2="381.85" stroke="rgba(6,24,30,0.78)" stroke-width="1"/>
<text x="143.04" y="375.25" font-size="6.4" transform="rotate(-90 143.04 375.25)" fill="#000" stroke="#000" stroke-width="0.15">α</text>
<rect x="137.24" y="423" width="7.2" height="7.2" fill="none" stroke="#3e484b" stroke-width="0.9"/>
<circle cx="140.84" cy="419.7" r="3.58" fill="none" stroke="#3e484b" stroke-width="0.9"/>
<text x="175.95" y="388.92" font-size="7.3" text-anchor="middle" fill="#000" stroke="#000" stroke-width="0.13">UB2</text>
<text x="175.95" y="397.85" font-size="7.3" text-anchor="middle" fill="#000" stroke="#000" stroke-width="0.13">quadratic</text>
<line x1="154.48" y1="377.85" x2="154.48" y2="381.85" stroke="rgba(6,24,30,0.78)" stroke-width="1"/>
<rect x="150.88" y="416.6" width="7.2" height="7.2" fill="none" stroke="#3e484b" stroke-width="0.9"/>
<circle cx="154.48" cy="419.5" r="3.58" fill="none" stroke="#3e484b" stroke-width="0.9"/>
<line x1="165.21" y1="377.85" x2="165.21" y2="381.85" stroke="rgba(6,24,30,0.78)" stroke-width="1"/>
<rect x="161.61" y="416.6" width="7.2" height="7.2" fill="none" stroke="#3e484b" stroke-width="0.9"/>
<circle cx="165.21" cy="419.5" r="3.58" fill="none" stroke="#3e484b" stroke-width="0.9"/>
<line x1="175.95" y1="377.85" x2="175.95" y2="381.85" stroke="rgba(6,24,30,0.78)" stroke-width="1"/>
<rect x="172.35" y="465.5" width="7.2" height="7.2" fill="none" stroke="#3e484b" stroke-width="0.9"/>
<circle cx="175.95" cy="466.4" r="3.58" fill="none" stroke="#3e484b" stroke-width="0.9"/>
<line x1="186.69" y1="377.85" x2="186.69" y2="381.85" stroke="rgba(6,24,30,0.78)" stroke-width="1"/>
<rect x="183.09" y="459.3" width="7.2" height="7.2" fill="none" stroke="#3e484b" stroke-width="0.9"/>
<circle cx="186.69" cy="460.8" r="3.58" fill="none" stroke="#3e484b" stroke-width="0.9"/>
<line x1="197.42" y1="377.85" x2="197.42" y2="381.85" stroke="rgba(6,24,30,0.78)" stroke-width="1"/>
<rect x="193.82" y="416.8" width="7.2" height="7.2" fill="none" stroke="#3e484b" stroke-width="0.9"/>
<circle cx="197.42" cy="419.7" r="3.58" fill="none" stroke="#3e484b" stroke-width="0.9"/>
<text x="232.53" y="388.92" font-size="7.3" text-anchor="middle" fill="#000" stroke="#000" stroke-width="0.13">UB2</text>
<text x="232.53" y="397.85" font-size="7.3" text-anchor="middle" fill="#000" stroke="#000" stroke-width="0.13">ordinal</text>
<line x1="211.06" y1="377.85" x2="211.06" y2="381.85" stroke="rgba(6,24,30,0.78)" stroke-width="1"/>
<text x="213.26" y="375.25" font-size="7.8" transform="rotate(-90 213.26 375.25)" fill="#000" stroke="#000" stroke-width="0.15">κ</text>
<rect x="207.46" y="419.9" width="7.2" height="7.2" fill="none" stroke="#3e484b" stroke-width="0.9"/>
<circle cx="211.06" cy="420.8" r="3.58" fill="none" stroke="#3e484b" stroke-width="0.9"/>
<line x1="221.79" y1="377.85" x2="221.79" y2="381.85" stroke="rgba(6,24,30,0.78)" stroke-width="1"/>
<text x="223.99" y="375.25" font-size="5.6" transform="rotate(-90 223.99 375.25)" fill="#000" stroke="#000" stroke-width="0.15">π</text>
<rect x="218.19" y="419.9" width="7.2" height="7.2" fill="none" stroke="#3e484b" stroke-width="0.9"/>
<circle cx="221.79" cy="420.6" r="3.58" fill="none" stroke="#3e484b" stroke-width="0.9"/>
<line x1="232.53" y1="377.85" x2="232.53" y2="381.85" stroke="rgba(6,24,30,0.78)" stroke-width="1"/>
<text x="234.73" y="375.25" font-size="6.6" transform="rotate(-90 234.73 375.25)" fill="#000" stroke="#000" stroke-width="0.15">AC2</text>
<rect x="228.93" y="463.2" width="7.2" height="7.2" fill="none" stroke="#3e484b" stroke-width="0.9"/>
<circle cx="232.53" cy="461.9" r="3.58" fill="none" stroke="#3e484b" stroke-width="0.9"/>
<line x1="243.27" y1="377.85" x2="243.27" y2="381.85" stroke="rgba(6,24,30,0.78)" stroke-width="1"/>
<text x="245.47" y="375.25" font-size="6.6" transform="rotate(-90 245.47 375.25)" fill="#000" stroke="#000" stroke-width="0.15">BP</text>
<rect x="239.67" y="457.2" width="7.2" height="7.2" fill="none" stroke="#3e484b" stroke-width="0.9"/>
<circle cx="243.27" cy="456.5" r="3.58" fill="none" stroke="#3e484b" stroke-width="0.9"/>
<line x1="254" y1="377.85" x2="254" y2="381.85" stroke="rgba(6,24,30,0.78)" stroke-width="1"/>
<text x="256.2" y="375.25" font-size="6.4" transform="rotate(-90 256.2 375.25)" fill="#000" stroke="#000" stroke-width="0.15">α</text>
<rect x="250.4" y="419.9" width="7.2" height="7.2" fill="none" stroke="#3e484b" stroke-width="0.9"/>
<circle cx="254" cy="420.8" r="3.58" fill="none" stroke="#3e484b" stroke-width="0.9"/>
<text x="289.11" y="388.92" font-size="7.3" text-anchor="middle" fill="#000" stroke="#000" stroke-width="0.13">UB2</text>
<text x="289.11" y="397.85" font-size="7.3" text-anchor="middle" fill="#000" stroke="#000" stroke-width="0.13">radical</text>
<line x1="267.64" y1="377.85" x2="267.64" y2="381.85" stroke="rgba(6,24,30,0.78)" stroke-width="1"/>
<rect x="264.04" y="422.4" width="7.2" height="7.2" fill="none" stroke="#3e484b" stroke-width="0.9"/>
<circle cx="267.64" cy="414.4" r="3.58" fill="none" stroke="#3e484b" stroke-width="0.9"/>
<line x1="278.37" y1="377.85" x2="278.37" y2="381.85" stroke="rgba(6,24,30,0.78)" stroke-width="1"/>
<rect x="274.77" y="422" width="7.2" height="7.2" fill="none" stroke="#3e484b" stroke-width="0.9"/>
<circle cx="278.37" cy="413.5" r="3.58" fill="none" stroke="#3e484b" stroke-width="0.9"/>
<line x1="289.11" y1="377.85" x2="289.11" y2="381.85" stroke="rgba(6,24,30,0.78)" stroke-width="1"/>
<rect x="285.51" y="445.2" width="7.2" height="7.2" fill="none" stroke="#3e484b" stroke-width="0.9"/>
<circle cx="289.11" cy="430.7" r="3.58" fill="none" stroke="#3e484b" stroke-width="0.9"/>
<line x1="299.85" y1="377.85" x2="299.85" y2="381.85" stroke="rgba(6,24,30,0.78)" stroke-width="1"/>
<rect x="296.25" y="441.9" width="7.2" height="7.2" fill="none" stroke="#3e484b" stroke-width="0.9"/>
<circle cx="299.85" cy="428.5" r="3.58" fill="none" stroke="#3e484b" stroke-width="0.9"/>
<line x1="310.58" y1="377.85" x2="310.58" y2="381.85" stroke="rgba(6,24,30,0.78)" stroke-width="1"/>
<rect x="306.98" y="422.4" width="7.2" height="7.2" fill="none" stroke="#3e484b" stroke-width="0.9"/>
<circle cx="310.58" cy="414.1" r="3.58" fill="none" stroke="#3e484b" stroke-width="0.9"/>
<rect x="34.5" y="474.67" width="282.9" height="8.93" fill="#fc1009"/>
<rect x="34.5" y="483.6" width="282.9" height="8.93" fill="#57fc2a"/>
<line x1="34.5" y1="474.67" x2="317.4" y2="474.67" stroke="rgba(6,24,30,0.78)" stroke-width="0.9"/>
<line x1="34.5" y1="483.45" x2="317.4" y2="483.45" stroke="rgba(6,24,30,0.78)" stroke-width="0.8"/>
<line x1="34.5" y1="492.53" x2="317.4" y2="492.53" stroke="rgba(6,24,30,0.78)" stroke-width="0.9"/>
<line x1="30.9" y1="493.68" x2="34.5" y2="493.68" stroke="rgba(6,24,30,0.78)" stroke-width="1"/>
<line x1="317.4" y1="493.68" x2="321" y2="493.68" stroke="rgba(6,24,30,0.78)" stroke-width="1"/>
<line x1="30.9" y1="510.93" x2="34.5" y2="510.93" stroke="rgba(6,24,30,0.78)" stroke-width="1"/>
<line x1="317.4" y1="510.93" x2="321" y2="510.93" stroke="rgba(6,24,30,0.78)" stroke-width="1"/>
<line x1="30.9" y1="528.18" x2="34.5" y2="528.18" stroke="rgba(6,24,30,0.78)" stroke-width="1"/>
<line x1="317.4" y1="528.18" x2="321" y2="528.18" stroke="rgba(6,24,30,0.78)" stroke-width="1"/>
<line x1="30.9" y1="545.43" x2="34.5" y2="545.43" stroke="rgba(6,24,30,0.78)" stroke-width="1"/>
<line x1="317.4" y1="545.43" x2="321" y2="545.43" stroke="rgba(6,24,30,0.78)" stroke-width="1"/>
<line x1="30.9" y1="562.68" x2="34.5" y2="562.68" stroke="rgba(6,24,30,0.78)" stroke-width="1"/>
<line x1="317.4" y1="562.68" x2="321" y2="562.68" stroke="rgba(6,24,30,0.78)" stroke-width="1"/>
<text x="323.8" y="512.73" font-size="6.0" fill="#000" stroke="#000" stroke-width="0.15">0.020</text>
<text x="323.8" y="529.98" font-size="6.0" fill="#000" stroke="#000" stroke-width="0.15">0.015</text>
<text x="323.8" y="547.23" font-size="6.0" fill="#000" stroke="#000" stroke-width="0.15">0.010</text>
<text x="323.8" y="564.48" font-size="6.0" fill="#000" stroke="#000" stroke-width="0.15">0.005</text>
<text x="62.79" y="481.74" font-size="7.3" text-anchor="middle" fill="#000" stroke="#000" stroke-width="0.13">UB1</text>
<text x="62.79" y="490.67" font-size="7.3" text-anchor="middle" fill="#000" stroke="#000" stroke-width="0.13">unweighted</text>
<rect x="37.72" y="518.9" width="7.2" height="7.2" fill="none" stroke="#3e484b" stroke-width="0.9"/>
<circle cx="41.32" cy="498.4" r="3.58" fill="none" stroke="#3e484b" stroke-width="0.9"/>
<rect x="48.45" y="518.7" width="7.2" height="7.2" fill="none" stroke="#3e484b" stroke-width="0.9"/>
<circle cx="52.05" cy="497.2" r="3.58" fill="none" stroke="#3e484b" stroke-width="0.9"/>
<rect x="59.19" y="522.4" width="7.2" height="7.2" fill="none" stroke="#3e484b" stroke-width="0.9"/>
<circle cx="62.79" cy="502.4" r="3.58" fill="none" stroke="#3e484b" stroke-width="0.9"/>
<rect x="69.93" y="522" width="7.2" height="7.2" fill="none" stroke="#3e484b" stroke-width="0.9"/>
<circle cx="73.53" cy="501.5" r="3.58" fill="none" stroke="#3e484b" stroke-width="0.9"/>
<rect x="80.66" y="518.7" width="7.2" height="7.2" fill="none" stroke="#3e484b" stroke-width="0.9"/>
<circle cx="84.26" cy="498" r="3.58" fill="none" stroke="#3e484b" stroke-width="0.9"/>
<text x="119.37" y="481.74" font-size="7.3" text-anchor="middle" fill="#000" stroke="#000" stroke-width="0.13">UB1</text>
<text x="119.37" y="490.67" font-size="7.3" text-anchor="middle" fill="#000" stroke="#000" stroke-width="0.13">linear</text>
<rect x="94.3" y="518.1" width="7.2" height="7.2" fill="none" stroke="#3e484b" stroke-width="0.9"/>
<circle cx="97.9" cy="515.2" r="3.58" fill="none" stroke="#3e484b" stroke-width="0.9"/>
<rect x="105.03" y="518.1" width="7.2" height="7.2" fill="none" stroke="#3e484b" stroke-width="0.9"/>
<circle cx="108.63" cy="514.8" r="3.58" fill="none" stroke="#3e484b" stroke-width="0.9"/>
<rect x="115.77" y="534.3" width="7.2" height="7.2" fill="none" stroke="#3e484b" stroke-width="0.9"/>
<circle cx="119.37" cy="530.4" r="3.58" fill="none" stroke="#3e484b" stroke-width="0.9"/>
<rect x="126.51" y="532.8" width="7.2" height="7.2" fill="none" stroke="#3e484b" stroke-width="0.9"/>
<circle cx="130.11" cy="528.3" r="3.58" fill="none" stroke="#3e484b" stroke-width="0.9"/>
<rect x="137.24" y="518.1" width="7.2" height="7.2" fill="none" stroke="#3e484b" stroke-width="0.9"/>
<circle cx="140.84" cy="515.2" r="3.58" fill="none" stroke="#3e484b" stroke-width="0.9"/>
<text x="175.95" y="481.74" font-size="7.3" text-anchor="middle" fill="#000" stroke="#000" stroke-width="0.13">UB1</text>
<text x="175.95" y="490.67" font-size="7.3" text-anchor="middle" fill="#000" stroke="#000" stroke-width="0.13">quadratic</text>
<rect x="150.88" y="507.3" width="7.2" height="7.2" fill="none" stroke="#3e484b" stroke-width="0.9"/>
<circle cx="154.48" cy="510.7" r="3.58" fill="none" stroke="#3e484b" stroke-width="0.9"/>
<rect x="161.61" y="507.3" width="7.2" height="7.2" fill="none" stroke="#3e484b" stroke-width="0.9"/>
<circle cx="165.21" cy="510.7" r="3.58" fill="none" stroke="#3e484b" stroke-width="0.9"/>
<rect x="172.35" y="539.6" width="7.2" height="7.2" fill="none" stroke="#3e484b" stroke-width="0.9"/>
<circle cx="175.95" cy="541.8" r="3.58" fill="none" stroke="#3e484b" stroke-width="0.9"/>
<rect x="183.09" y="533.2" width="7.2" height="7.2" fill="none" stroke="#3e484b" stroke-width="0.9"/>
<circle cx="186.69" cy="535.6" r="3.58" fill="none" stroke="#3e484b" stroke-width="0.9"/>
<rect x="193.82" y="507.3" width="7.2" height="7.2" fill="none" stroke="#3e484b" stroke-width="0.9"/>
<circle cx="197.42" cy="510.7" r="3.58" fill="none" stroke="#3e484b" stroke-width="0.9"/>
<text x="232.53" y="481.74" font-size="7.3" text-anchor="middle" fill="#000" stroke="#000" stroke-width="0.13">UB1</text>
<text x="232.53" y="490.67" font-size="7.3" text-anchor="middle" fill="#000" stroke="#000" stroke-width="0.13">ordinal</text>
<rect x="207.46" y="511.2" width="7.2" height="7.2" fill="none" stroke="#3e484b" stroke-width="0.9"/>
<circle cx="211.06" cy="513.2" r="3.58" fill="none" stroke="#3e484b" stroke-width="0.9"/>
<rect x="218.19" y="511.2" width="7.2" height="7.2" fill="none" stroke="#3e484b" stroke-width="0.9"/>
<circle cx="221.79" cy="513" r="3.58" fill="none" stroke="#3e484b" stroke-width="0.9"/>
<rect x="228.93" y="538.2" width="7.2" height="7.2" fill="none" stroke="#3e484b" stroke-width="0.9"/>
<circle cx="232.53" cy="539.7" r="3.58" fill="none" stroke="#3e484b" stroke-width="0.9"/>
<rect x="239.67" y="533.6" width="7.2" height="7.2" fill="none" stroke="#3e484b" stroke-width="0.9"/>
<circle cx="243.27" cy="534.9" r="3.58" fill="none" stroke="#3e484b" stroke-width="0.9"/>
<rect x="250.4" y="511.2" width="7.2" height="7.2" fill="none" stroke="#3e484b" stroke-width="0.9"/>
<circle cx="254" cy="513.2" r="3.58" fill="none" stroke="#3e484b" stroke-width="0.9"/>
<text x="289.11" y="481.74" font-size="7.3" text-anchor="middle" fill="#000" stroke="#000" stroke-width="0.13">UB1</text>
<text x="289.11" y="490.67" font-size="7.3" text-anchor="middle" fill="#000" stroke="#000" stroke-width="0.13">radical</text>
<rect x="264.04" y="520.8" width="7.2" height="7.2" fill="none" stroke="#3e484b" stroke-width="0.9"/>
<circle cx="267.64" cy="510.7" r="3.58" fill="none" stroke="#3e484b" stroke-width="0.9"/>
<rect x="274.77" y="520.6" width="7.2" height="7.2" fill="none" stroke="#3e484b" stroke-width="0.9"/>
<circle cx="278.37" cy="509.8" r="3.58" fill="none" stroke="#3e484b" stroke-width="0.9"/>
<rect x="285.51" y="529.9" width="7.2" height="7.2" fill="none" stroke="#3e484b" stroke-width="0.9"/>
<circle cx="289.11" cy="519.2" r="3.58" fill="none" stroke="#3e484b" stroke-width="0.9"/>
<rect x="296.25" y="529.5" width="7.2" height="7.2" fill="none" stroke="#3e484b" stroke-width="0.9"/>
<circle cx="299.85" cy="517.9" r="3.58" fill="none" stroke="#3e484b" stroke-width="0.9"/>
<rect x="306.98" y="520.8" width="7.2" height="7.2" fill="none" stroke="#3e484b" stroke-width="0.9"/>
<circle cx="310.58" cy="510.5" r="3.58" fill="none" stroke="#3e484b" stroke-width="0.9"/>
<rect x="34.5" y="567.48" width="282.9" height="8.93" fill="#fc1009"/>
<rect x="34.5" y="576.41" width="282.9" height="8.93" fill="#57fc2a"/>
<line x1="34.5" y1="567.48" x2="317.4" y2="567.48" stroke="rgba(6,24,30,0.78)" stroke-width="0.9"/>
<line x1="34.5" y1="576.26" x2="317.4" y2="576.26" stroke="rgba(6,24,30,0.78)" stroke-width="0.8"/>
<line x1="34.5" y1="585.34" x2="317.4" y2="585.34" stroke="rgba(6,24,30,0.78)" stroke-width="0.9"/>
<line x1="30.9" y1="586.49" x2="34.5" y2="586.49" stroke="rgba(6,24,30,0.78)" stroke-width="1"/>
<line x1="317.4" y1="586.49" x2="321" y2="586.49" stroke="rgba(6,24,30,0.78)" stroke-width="1"/>
<line x1="30.9" y1="603.74" x2="34.5" y2="603.74" stroke="rgba(6,24,30,0.78)" stroke-width="1"/>
<line x1="317.4" y1="603.74" x2="321" y2="603.74" stroke="rgba(6,24,30,0.78)" stroke-width="1"/>
<line x1="30.9" y1="620.99" x2="34.5" y2="620.99" stroke="rgba(6,24,30,0.78)" stroke-width="1"/>
<line x1="317.4" y1="620.99" x2="321" y2="620.99" stroke="rgba(6,24,30,0.78)" stroke-width="1"/>
<line x1="30.9" y1="638.24" x2="34.5" y2="638.24" stroke="rgba(6,24,30,0.78)" stroke-width="1"/>
<line x1="317.4" y1="638.24" x2="321" y2="638.24" stroke="rgba(6,24,30,0.78)" stroke-width="1"/>
<line x1="30.9" y1="655.49" x2="34.5" y2="655.49" stroke="rgba(6,24,30,0.78)" stroke-width="1"/>
<line x1="317.4" y1="655.49" x2="321" y2="655.49" stroke="rgba(6,24,30,0.78)" stroke-width="1"/>
<text x="27.6" y="605.54" font-size="6.0" text-anchor="end" fill="#000" stroke="#000" stroke-width="0.15">0.020</text>
<text x="27.6" y="622.79" font-size="6.0" text-anchor="end" fill="#000" stroke="#000" stroke-width="0.15">0.015</text>
<text x="27.6" y="640.04" font-size="6.0" text-anchor="end" fill="#000" stroke="#000" stroke-width="0.15">0.010</text>
<text x="27.6" y="657.29" font-size="6.0" text-anchor="end" fill="#000" stroke="#000" stroke-width="0.15">0.005</text>
<text x="62.79" y="574.55" font-size="7.3" text-anchor="middle" fill="#000" stroke="#000" stroke-width="0.13">BL</text>
<text x="62.79" y="583.48" font-size="7.3" text-anchor="middle" fill="#000" stroke="#000" stroke-width="0.13">unweighted</text>
<line x1="41.32" y1="660.3" x2="41.32" y2="663.9" stroke="rgba(6,24,30,0.78)" stroke-width="1"/>
<text x="43.52" y="667.7" font-size="7.8" text-anchor="end" transform="rotate(-90 43.52 667.7)" fill="#000" stroke="#000" stroke-width="0.15">κ</text>
<rect x="37.72" y="616.7" width="7.2" height="7.2" fill="none" stroke="#3e484b" stroke-width="0.9"/>
<circle cx="41.32" cy="598.9" r="3.58" fill="none" stroke="#3e484b" stroke-width="0.9"/>
<line x1="52.05" y1="660.3" x2="52.05" y2="663.9" stroke="rgba(6,24,30,0.78)" stroke-width="1"/>
<text x="54.25" y="667.7" font-size="5.6" text-anchor="end" transform="rotate(-90 54.25 667.7)" fill="#000" stroke="#000" stroke-width="0.15">π</text>
<rect x="48.45" y="616.7" width="7.2" height="7.2" fill="none" stroke="#3e484b" stroke-width="0.9"/>
<circle cx="52.05" cy="597.9" r="3.58" fill="none" stroke="#3e484b" stroke-width="0.9"/>
<line x1="62.79" y1="660.3" x2="62.79" y2="663.9" stroke="rgba(6,24,30,0.78)" stroke-width="1"/>
<text x="64.99" y="667.7" font-size="6.6" text-anchor="end" transform="rotate(-90 64.99 667.7)" fill="#000" stroke="#000" stroke-width="0.15">AC2</text>
<rect x="59.19" y="616.7" width="7.2" height="7.2" fill="none" stroke="#3e484b" stroke-width="0.9"/>
<circle cx="62.79" cy="599.5" r="3.58" fill="none" stroke="#3e484b" stroke-width="0.9"/>
<line x1="73.53" y1="660.3" x2="73.53" y2="663.9" stroke="rgba(6,24,30,0.78)" stroke-width="1"/>
<text x="75.73" y="667.7" font-size="6.6" text-anchor="end" transform="rotate(-90 75.73 667.7)" fill="#000" stroke="#000" stroke-width="0.15">BP</text>
<rect x="69.93" y="616.7" width="7.2" height="7.2" fill="none" stroke="#3e484b" stroke-width="0.9"/>
<circle cx="73.53" cy="599.1" r="3.58" fill="none" stroke="#3e484b" stroke-width="0.9"/>
<line x1="84.26" y1="660.3" x2="84.26" y2="663.9" stroke="rgba(6,24,30,0.78)" stroke-width="1"/>
<text x="86.46" y="667.7" font-size="6.4" text-anchor="end" transform="rotate(-90 86.46 667.7)" fill="#000" stroke="#000" stroke-width="0.15">α</text>
<rect x="80.66" y="616.7" width="7.2" height="7.2" fill="none" stroke="#3e484b" stroke-width="0.9"/>
<circle cx="84.26" cy="598.7" r="3.58" fill="none" stroke="#3e484b" stroke-width="0.9"/>
<text x="119.37" y="574.55" font-size="7.3" text-anchor="middle" fill="#000" stroke="#000" stroke-width="0.13">BL</text>
<text x="119.37" y="583.48" font-size="7.3" text-anchor="middle" fill="#000" stroke="#000" stroke-width="0.13">linear</text>
<line x1="97.9" y1="660.3" x2="97.9" y2="663.9" stroke="rgba(6,24,30,0.78)" stroke-width="1"/>
<rect x="94.3" y="614.4" width="7.2" height="7.2" fill="none" stroke="#3e484b" stroke-width="0.9"/>
<circle cx="97.9" cy="611.3" r="3.58" fill="none" stroke="#3e484b" stroke-width="0.9"/>
<line x1="108.63" y1="660.3" x2="108.63" y2="663.9" stroke="rgba(6,24,30,0.78)" stroke-width="1"/>
<rect x="105.03" y="614.4" width="7.2" height="7.2" fill="none" stroke="#3e484b" stroke-width="0.9"/>
<circle cx="108.63" cy="610.9" r="3.58" fill="none" stroke="#3e484b" stroke-width="0.9"/>
<line x1="119.37" y1="660.3" x2="119.37" y2="663.9" stroke="rgba(6,24,30,0.78)" stroke-width="1"/>
<rect x="115.77" y="619.2" width="7.2" height="7.2" fill="none" stroke="#3e484b" stroke-width="0.9"/>
<circle cx="119.37" cy="617.8" r="3.58" fill="none" stroke="#3e484b" stroke-width="0.9"/>
<line x1="130.11" y1="660.3" x2="130.11" y2="663.9" stroke="rgba(6,24,30,0.78)" stroke-width="1"/>
<rect x="126.51" y="619.2" width="7.2" height="7.2" fill="none" stroke="#3e484b" stroke-width="0.9"/>
<circle cx="130.11" cy="617.2" r="3.58" fill="none" stroke="#3e484b" stroke-width="0.9"/>
<line x1="140.84" y1="660.3" x2="140.84" y2="663.9" stroke="rgba(6,24,30,0.78)" stroke-width="1"/>
<rect x="137.24" y="614.4" width="7.2" height="7.2" fill="none" stroke="#3e484b" stroke-width="0.9"/>
<circle cx="140.84" cy="611.3" r="3.58" fill="none" stroke="#3e484b" stroke-width="0.9"/>
<text x="175.95" y="574.55" font-size="7.3" text-anchor="middle" fill="#000" stroke="#000" stroke-width="0.13">BL</text>
<text x="175.95" y="583.48" font-size="7.3" text-anchor="middle" fill="#000" stroke="#000" stroke-width="0.13">quadratic</text>
<line x1="154.48" y1="660.3" x2="154.48" y2="663.9" stroke="rgba(6,24,30,0.78)" stroke-width="1"/>
<text x="156.68" y="667.7" font-size="7.8" text-anchor="end" transform="rotate(-90 156.68 667.7)" fill="#000" stroke="#000" stroke-width="0.15">κ</text>
<rect x="150.88" y="608" width="7.2" height="7.2" fill="none" stroke="#3e484b" stroke-width="0.9"/>
<circle cx="154.48" cy="609.5" r="3.58" fill="none" stroke="#3e484b" stroke-width="0.9"/>
<line x1="165.21" y1="660.3" x2="165.21" y2="663.9" stroke="rgba(6,24,30,0.78)" stroke-width="1"/>
<text x="167.41" y="667.7" font-size="5.6" text-anchor="end" transform="rotate(-90 167.41 667.7)" fill="#000" stroke="#000" stroke-width="0.15">π</text>
<rect x="161.61" y="608" width="7.2" height="7.2" fill="none" stroke="#3e484b" stroke-width="0.9"/>
<circle cx="165.21" cy="609.3" r="3.58" fill="none" stroke="#3e484b" stroke-width="0.9"/>
<line x1="175.95" y1="660.3" x2="175.95" y2="663.9" stroke="rgba(6,24,30,0.78)" stroke-width="1"/>
<text x="178.15" y="667.7" font-size="6.6" text-anchor="end" transform="rotate(-90 178.15 667.7)" fill="#000" stroke="#000" stroke-width="0.15">AC2</text>
<rect x="172.35" y="611.7" width="7.2" height="7.2" fill="none" stroke="#3e484b" stroke-width="0.9"/>
<circle cx="175.95" cy="615.1" r="3.58" fill="none" stroke="#3e484b" stroke-width="0.9"/>
<line x1="186.69" y1="660.3" x2="186.69" y2="663.9" stroke="rgba(6,24,30,0.78)" stroke-width="1"/>
<text x="188.89" y="667.7" font-size="6.6" text-anchor="end" transform="rotate(-90 188.89 667.7)" fill="#000" stroke="#000" stroke-width="0.15">BP</text>
<rect x="183.09" y="611.5" width="7.2" height="7.2" fill="none" stroke="#3e484b" stroke-width="0.9"/>
<circle cx="186.69" cy="614.7" r="3.58" fill="none" stroke="#3e484b" stroke-width="0.9"/>
<line x1="197.42" y1="660.3" x2="197.42" y2="663.9" stroke="rgba(6,24,30,0.78)" stroke-width="1"/>
<text x="199.62" y="667.7" font-size="6.4" text-anchor="end" transform="rotate(-90 199.62 667.7)" fill="#000" stroke="#000" stroke-width="0.15">α</text>
<rect x="193.82" y="608" width="7.2" height="7.2" fill="none" stroke="#3e484b" stroke-width="0.9"/>
<circle cx="197.42" cy="609.5" r="3.58" fill="none" stroke="#3e484b" stroke-width="0.9"/>
<text x="232.53" y="574.55" font-size="7.3" text-anchor="middle" fill="#000" stroke="#000" stroke-width="0.13">BL</text>
<text x="232.53" y="583.48" font-size="7.3" text-anchor="middle" fill="#000" stroke="#000" stroke-width="0.13">ordinal</text>
<line x1="211.06" y1="660.3" x2="211.06" y2="663.9" stroke="rgba(6,24,30,0.78)" stroke-width="1"/>
<rect x="207.46" y="610" width="7.2" height="7.2" fill="none" stroke="#3e484b" stroke-width="0.9"/>
<circle cx="211.06" cy="610.3" r="3.58" fill="none" stroke="#3e484b" stroke-width="0.9"/>
<line x1="221.79" y1="660.3" x2="221.79" y2="663.9" stroke="rgba(6,24,30,0.78)" stroke-width="1"/>
<rect x="218.19" y="610" width="7.2" height="7.2" fill="none" stroke="#3e484b" stroke-width="0.9"/>
<circle cx="221.79" cy="610.1" r="3.58" fill="none" stroke="#3e484b" stroke-width="0.9"/>
<line x1="232.53" y1="660.3" x2="232.53" y2="663.9" stroke="rgba(6,24,30,0.78)" stroke-width="1"/>
<rect x="228.93" y="614.2" width="7.2" height="7.2" fill="none" stroke="#3e484b" stroke-width="0.9"/>
<circle cx="232.53" cy="617.2" r="3.58" fill="none" stroke="#3e484b" stroke-width="0.9"/>
<line x1="243.27" y1="660.3" x2="243.27" y2="663.9" stroke="rgba(6,24,30,0.78)" stroke-width="1"/>
<rect x="239.67" y="614.2" width="7.2" height="7.2" fill="none" stroke="#3e484b" stroke-width="0.9"/>
<circle cx="243.27" cy="616.7" r="3.58" fill="none" stroke="#3e484b" stroke-width="0.9"/>
<line x1="254" y1="660.3" x2="254" y2="663.9" stroke="rgba(6,24,30,0.78)" stroke-width="1"/>
<rect x="250.4" y="610" width="7.2" height="7.2" fill="none" stroke="#3e484b" stroke-width="0.9"/>
<circle cx="254" cy="610.5" r="3.58" fill="none" stroke="#3e484b" stroke-width="0.9"/>
<text x="289.11" y="574.55" font-size="7.3" text-anchor="middle" fill="#000" stroke="#000" stroke-width="0.13">BL</text>
<text x="289.11" y="583.48" font-size="7.3" text-anchor="middle" fill="#000" stroke="#000" stroke-width="0.13">radical</text>
<line x1="267.64" y1="660.3" x2="267.64" y2="663.9" stroke="rgba(6,24,30,0.78)" stroke-width="1"/>
<text x="269.84" y="667.7" font-size="7.8" text-anchor="end" transform="rotate(-90 269.84 667.7)" fill="#000" stroke="#000" stroke-width="0.15">κ</text>
<rect x="264.04" y="617.7" width="7.2" height="7.2" fill="none" stroke="#3e484b" stroke-width="0.9"/>
<circle cx="267.64" cy="608.2" r="3.58" fill="none" stroke="#3e484b" stroke-width="0.9"/>
<line x1="278.37" y1="660.3" x2="278.37" y2="663.9" stroke="rgba(6,24,30,0.78)" stroke-width="1"/>
<text x="280.57" y="667.7" font-size="5.6" text-anchor="end" transform="rotate(-90 280.57 667.7)" fill="#000" stroke="#000" stroke-width="0.15">π</text>
<rect x="274.77" y="617.3" width="7.2" height="7.2" fill="none" stroke="#3e484b" stroke-width="0.9"/>
<circle cx="278.37" cy="607.4" r="3.58" fill="none" stroke="#3e484b" stroke-width="0.9"/>
<line x1="289.11" y1="660.3" x2="289.11" y2="663.9" stroke="rgba(6,24,30,0.78)" stroke-width="1"/>
<text x="291.31" y="667.7" font-size="6.6" text-anchor="end" transform="rotate(-90 291.31 667.7)" fill="#000" stroke="#000" stroke-width="0.15">AC2</text>
<rect x="285.51" y="620.2" width="7.2" height="7.2" fill="none" stroke="#3e484b" stroke-width="0.9"/>
<circle cx="289.11" cy="612.6" r="3.58" fill="none" stroke="#3e484b" stroke-width="0.9"/>
<line x1="299.85" y1="660.3" x2="299.85" y2="663.9" stroke="rgba(6,24,30,0.78)" stroke-width="1"/>
<text x="302.05" y="667.7" font-size="6.6" text-anchor="end" transform="rotate(-90 302.05 667.7)" fill="#000" stroke="#000" stroke-width="0.15">BP</text>
<rect x="296.25" y="620.2" width="7.2" height="7.2" fill="none" stroke="#3e484b" stroke-width="0.9"/>
<circle cx="299.85" cy="612" r="3.58" fill="none" stroke="#3e484b" stroke-width="0.9"/>
<line x1="310.58" y1="660.3" x2="310.58" y2="663.9" stroke="rgba(6,24,30,0.78)" stroke-width="1"/>
<text x="312.78" y="667.7" font-size="6.4" text-anchor="end" transform="rotate(-90 312.78 667.7)" fill="#000" stroke="#000" stroke-width="0.15">α</text>
<rect x="306.98" y="617.7" width="7.2" height="7.2" fill="none" stroke="#3e484b" stroke-width="0.9"/>
<circle cx="310.58" cy="608" r="3.58" fill="none" stroke="#3e484b" stroke-width="0.9"/>
<line x1="34.5" y1="381.85" x2="34.5" y2="660.3" stroke="rgba(6,24,30,0.78)" stroke-width="1"/>
<line x1="91.08" y1="381.85" x2="91.08" y2="660.3" stroke="rgba(6,24,30,0.78)" stroke-width="1"/>
<line x1="147.66" y1="381.85" x2="147.66" y2="660.3" stroke="rgba(6,24,30,0.78)" stroke-width="1"/>
<line x1="204.24" y1="381.85" x2="204.24" y2="660.3" stroke="rgba(6,24,30,0.78)" stroke-width="1"/>
<line x1="260.82" y1="381.85" x2="260.82" y2="660.3" stroke="rgba(6,24,30,0.78)" stroke-width="1"/>
<line x1="317.4" y1="381.85" x2="317.4" y2="660.3" stroke="rgba(6,24,30,0.78)" stroke-width="1"/>
<line x1="34" y1="660.3" x2="317.9" y2="660.3" stroke="rgba(6,24,30,0.78)" stroke-width="1"/>
<text x="175.95" y="692.6" font-size="7.4" text-anchor="middle" fill="#000" stroke="#000" stroke-width="0.15">Agreement Coefficients</text>
<text x="171.5" y="709.2" font-size="11.4" text-anchor="middle" fill="#000" stroke="#000" stroke-width="0.15">(c) 5x5</text>
<text x="6" y="530" font-size="7.1" text-anchor="middle" transform="rotate(-90 6 530)" fill="#000" stroke="#000" stroke-width="0.15">MAE</text>
</g>
<g id="fig-d">
<rect x="380.5" y="381.85" width="282.9" height="8.93" fill="#fc1009"/>
<rect x="380.5" y="390.78" width="282.9" height="8.93" fill="#57fc2a"/>
<line x1="380.5" y1="381.85" x2="663.4" y2="381.85" stroke="rgba(6,24,30,0.78)" stroke-width="0.9"/>
<line x1="380.5" y1="390.63" x2="663.4" y2="390.63" stroke="rgba(6,24,30,0.78)" stroke-width="0.8"/>
<line x1="380.5" y1="399.71" x2="663.4" y2="399.71" stroke="rgba(6,24,30,0.78)" stroke-width="0.9"/>
<line x1="376.9" y1="407.71" x2="380.5" y2="407.71" stroke="rgba(6,24,30,0.78)" stroke-width="1"/>
<line x1="663.4" y1="407.71" x2="667" y2="407.71" stroke="rgba(6,24,30,0.78)" stroke-width="1"/>
<line x1="376.9" y1="420.39" x2="380.5" y2="420.39" stroke="rgba(6,24,30,0.78)" stroke-width="1"/>
<line x1="663.4" y1="420.39" x2="667" y2="420.39" stroke="rgba(6,24,30,0.78)" stroke-width="1"/>
<line x1="376.9" y1="433.07" x2="380.5" y2="433.07" stroke="rgba(6,24,30,0.78)" stroke-width="1"/>
<line x1="663.4" y1="433.07" x2="667" y2="433.07" stroke="rgba(6,24,30,0.78)" stroke-width="1"/>
<line x1="376.9" y1="445.75" x2="380.5" y2="445.75" stroke="rgba(6,24,30,0.78)" stroke-width="1"/>
<line x1="663.4" y1="445.75" x2="667" y2="445.75" stroke="rgba(6,24,30,0.78)" stroke-width="1"/>
<line x1="376.9" y1="458.43" x2="380.5" y2="458.43" stroke="rgba(6,24,30,0.78)" stroke-width="1"/>
<line x1="663.4" y1="458.43" x2="667" y2="458.43" stroke="rgba(6,24,30,0.78)" stroke-width="1"/>
<line x1="376.9" y1="471.11" x2="380.5" y2="471.11" stroke="rgba(6,24,30,0.78)" stroke-width="1"/>
<line x1="663.4" y1="471.11" x2="667" y2="471.11" stroke="rgba(6,24,30,0.78)" stroke-width="1"/>
<text x="373.6" y="409.51" font-size="6.0" text-anchor="end" fill="#000" stroke="#000" stroke-width="0.15">0.030</text>
<text x="373.6" y="422.19" font-size="6.0" text-anchor="end" fill="#000" stroke="#000" stroke-width="0.15">0.025</text>
<text x="373.6" y="434.87" font-size="6.0" text-anchor="end" fill="#000" stroke="#000" stroke-width="0.15">0.020</text>
<text x="373.6" y="447.55" font-size="6.0" text-anchor="end" fill="#000" stroke="#000" stroke-width="0.15">0.015</text>
<text x="373.6" y="460.23" font-size="6.0" text-anchor="end" fill="#000" stroke="#000" stroke-width="0.15">0.010</text>
<text x="373.6" y="472.91" font-size="6.0" text-anchor="end" fill="#000" stroke="#000" stroke-width="0.15">0.005</text>
<text x="408.79" y="388.92" font-size="7.3" text-anchor="middle" fill="#000" stroke="#000" stroke-width="0.13">UB2</text>
<text x="408.79" y="397.85" font-size="7.3" text-anchor="middle" fill="#000" stroke="#000" stroke-width="0.13">unweighted</text>
<line x1="387.32" y1="377.85" x2="387.32" y2="381.85" stroke="rgba(6,24,30,0.78)" stroke-width="1"/>
<rect x="383.72" y="432.7" width="7.2" height="7.2" fill="none" stroke="#3e484b" stroke-width="0.9"/>
<circle cx="387.32" cy="405.2" r="3.58" fill="none" stroke="#3e484b" stroke-width="0.9"/>
<line x1="398.05" y1="377.85" x2="398.05" y2="381.85" stroke="rgba(6,24,30,0.78)" stroke-width="1"/>
<rect x="394.45" y="432.7" width="7.2" height="7.2" fill="none" stroke="#3e484b" stroke-width="0.9"/>
<circle cx="398.05" cy="404.2" r="3.58" fill="none" stroke="#3e484b" stroke-width="0.9"/>
<line x1="408.79" y1="377.85" x2="408.79" y2="381.85" stroke="rgba(6,24,30,0.78)" stroke-width="1"/>
<rect x="405.19" y="442.7" width="7.2" height="7.2" fill="none" stroke="#3e484b" stroke-width="0.9"/>
<circle cx="408.79" cy="426.2" r="3.58" fill="none" stroke="#3e484b" stroke-width="0.9"/>
<line x1="419.53" y1="377.85" x2="419.53" y2="381.85" stroke="rgba(6,24,30,0.78)" stroke-width="1"/>
<rect x="415.93" y="441.9" width="7.2" height="7.2" fill="none" stroke="#3e484b" stroke-width="0.9"/>
<circle cx="419.53" cy="423.9" r="3.58" fill="none" stroke="#3e484b" stroke-width="0.9"/>
<line x1="430.26" y1="377.85" x2="430.26" y2="381.85" stroke="rgba(6,24,30,0.78)" stroke-width="1"/>
<rect x="426.66" y="432.7" width="7.2" height="7.2" fill="none" stroke="#3e484b" stroke-width="0.9"/>
<circle cx="430.26" cy="405" r="3.58" fill="none" stroke="#3e484b" stroke-width="0.9"/>
<text x="465.37" y="388.92" font-size="7.3" text-anchor="middle" fill="#000" stroke="#000" stroke-width="0.13">UB2</text>
<text x="465.37" y="397.85" font-size="7.3" text-anchor="middle" fill="#000" stroke="#000" stroke-width="0.13">linear</text>
<line x1="443.9" y1="377.85" x2="443.9" y2="381.85" stroke="rgba(6,24,30,0.78)" stroke-width="1"/>
<text x="446.1" y="375.25" font-size="7.8" transform="rotate(-90 446.1 375.25)" fill="#000" stroke="#000" stroke-width="0.15">κ</text>
<rect x="440.3" y="431.3" width="7.2" height="7.2" fill="none" stroke="#3e484b" stroke-width="0.9"/>
<circle cx="443.9" cy="434.3" r="3.58" fill="none" stroke="#3e484b" stroke-width="0.9"/>
<line x1="454.63" y1="377.85" x2="454.63" y2="381.85" stroke="rgba(6,24,30,0.78)" stroke-width="1"/>
<text x="456.83" y="375.25" font-size="5.6" transform="rotate(-90 456.83 375.25)" fill="#000" stroke="#000" stroke-width="0.15">π</text>
<rect x="451.03" y="431.3" width="7.2" height="7.2" fill="none" stroke="#3e484b" stroke-width="0.9"/>
<circle cx="454.63" cy="434.1" r="3.58" fill="none" stroke="#3e484b" stroke-width="0.9"/>
<line x1="465.37" y1="377.85" x2="465.37" y2="381.85" stroke="rgba(6,24,30,0.78)" stroke-width="1"/>
<text x="467.57" y="375.25" font-size="6.6" transform="rotate(-90 467.57 375.25)" fill="#000" stroke="#000" stroke-width="0.15">AC2</text>
<rect x="461.77" y="457.6" width="7.2" height="7.2" fill="none" stroke="#3e484b" stroke-width="0.9"/>
<circle cx="465.37" cy="458.1" r="3.58" fill="none" stroke="#3e484b" stroke-width="0.9"/>
<line x1="476.11" y1="377.85" x2="476.11" y2="381.85" stroke="rgba(6,24,30,0.78)" stroke-width="1"/>
<text x="478.31" y="375.25" font-size="6.6" transform="rotate(-90 478.31 375.25)" fill="#000" stroke="#000" stroke-width="0.15">BP</text>
<rect x="472.51" y="453.1" width="7.2" height="7.2" fill="none" stroke="#3e484b" stroke-width="0.9"/>
<circle cx="476.11" cy="451.3" r="3.58" fill="none" stroke="#3e484b" stroke-width="0.9"/>
<line x1="486.84" y1="377.85" x2="486.84" y2="381.85" stroke="rgba(6,24,30,0.78)" stroke-width="1"/>
<text x="489.04" y="375.25" font-size="6.4" transform="rotate(-90 489.04 375.25)" fill="#000" stroke="#000" stroke-width="0.15">α</text>
<rect x="483.24" y="431.3" width="7.2" height="7.2" fill="none" stroke="#3e484b" stroke-width="0.9"/>
<circle cx="486.84" cy="434.3" r="3.58" fill="none" stroke="#3e484b" stroke-width="0.9"/>
<text x="521.95" y="388.92" font-size="7.3" text-anchor="middle" fill="#000" stroke="#000" stroke-width="0.13">UB2</text>
<text x="521.95" y="397.85" font-size="7.3" text-anchor="middle" fill="#000" stroke="#000" stroke-width="0.13">quadratic</text>
<line x1="500.48" y1="377.85" x2="500.48" y2="381.85" stroke="rgba(6,24,30,0.78)" stroke-width="1"/>
<rect x="496.88" y="418.2" width="7.2" height="7.2" fill="none" stroke="#3e484b" stroke-width="0.9"/>
<circle cx="500.48" cy="424.3" r="3.58" fill="none" stroke="#3e484b" stroke-width="0.9"/>
<line x1="511.21" y1="377.85" x2="511.21" y2="381.85" stroke="rgba(6,24,30,0.78)" stroke-width="1"/>
<rect x="507.61" y="418.2" width="7.2" height="7.2" fill="none" stroke="#3e484b" stroke-width="0.9"/>
<circle cx="511.21" cy="424.3" r="3.58" fill="none" stroke="#3e484b" stroke-width="0.9"/>
<line x1="521.95" y1="377.85" x2="521.95" y2="381.85" stroke="rgba(6,24,30,0.78)" stroke-width="1"/>
<rect x="518.35" y="465.5" width="7.2" height="7.2" fill="none" stroke="#3e484b" stroke-width="0.9"/>
<circle cx="521.95" cy="469.1" r="3.58" fill="none" stroke="#3e484b" stroke-width="0.9"/>
<line x1="532.69" y1="377.85" x2="532.69" y2="381.85" stroke="rgba(6,24,30,0.78)" stroke-width="1"/>
<rect x="529.09" y="457" width="7.2" height="7.2" fill="none" stroke="#3e484b" stroke-width="0.9"/>
<circle cx="532.69" cy="459.8" r="3.58" fill="none" stroke="#3e484b" stroke-width="0.9"/>
<line x1="543.42" y1="377.85" x2="543.42" y2="381.85" stroke="rgba(6,24,30,0.78)" stroke-width="1"/>
<rect x="539.82" y="418.2" width="7.2" height="7.2" fill="none" stroke="#3e484b" stroke-width="0.9"/>
<circle cx="543.42" cy="423.9" r="3.58" fill="none" stroke="#3e484b" stroke-width="0.9"/>
<text x="578.53" y="388.92" font-size="7.3" text-anchor="middle" fill="#000" stroke="#000" stroke-width="0.13">UB2</text>
<text x="578.53" y="397.85" font-size="7.3" text-anchor="middle" fill="#000" stroke="#000" stroke-width="0.13">ordinal</text>
<line x1="557.06" y1="377.85" x2="557.06" y2="381.85" stroke="rgba(6,24,30,0.78)" stroke-width="1"/>
<text x="559.26" y="375.25" font-size="7.8" transform="rotate(-90 559.26 375.25)" fill="#000" stroke="#000" stroke-width="0.15">κ</text>
<rect x="553.46" y="422.8" width="7.2" height="7.2" fill="none" stroke="#3e484b" stroke-width="0.9"/>
<circle cx="557.06" cy="428" r="3.58" fill="none" stroke="#3e484b" stroke-width="0.9"/>
<line x1="567.79" y1="377.85" x2="567.79" y2="381.85" stroke="rgba(6,24,30,0.78)" stroke-width="1"/>
<text x="569.99" y="375.25" font-size="5.6" transform="rotate(-90 569.99 375.25)" fill="#000" stroke="#000" stroke-width="0.15">π</text>
<rect x="564.19" y="422.8" width="7.2" height="7.2" fill="none" stroke="#3e484b" stroke-width="0.9"/>
<circle cx="567.79" cy="428" r="3.58" fill="none" stroke="#3e484b" stroke-width="0.9"/>
<line x1="578.53" y1="377.85" x2="578.53" y2="381.85" stroke="rgba(6,24,30,0.78)" stroke-width="1"/>
<text x="580.73" y="375.25" font-size="6.6" transform="rotate(-90 580.73 375.25)" fill="#000" stroke="#000" stroke-width="0.15">AC2</text>
<rect x="574.93" y="464.3" width="7.2" height="7.2" fill="none" stroke="#3e484b" stroke-width="0.9"/>
<circle cx="578.53" cy="467.5" r="3.58" fill="none" stroke="#3e484b" stroke-width="0.9"/>
<line x1="589.27" y1="377.85" x2="589.27" y2="381.85" stroke="rgba(6,24,30,0.78)" stroke-width="1"/>
<text x="591.47" y="375.25" font-size="6.6" transform="rotate(-90 591.47 375.25)" fill="#000" stroke="#000" stroke-width="0.15">BP</text>
<rect x="585.67" y="456.2" width="7.2" height="7.2" fill="none" stroke="#3e484b" stroke-width="0.9"/>
<circle cx="589.27" cy="458.8" r="3.58" fill="none" stroke="#3e484b" stroke-width="0.9"/>
<line x1="600" y1="377.85" x2="600" y2="381.85" stroke="rgba(6,24,30,0.78)" stroke-width="1"/>
<text x="602.2" y="375.25" font-size="6.4" transform="rotate(-90 602.2 375.25)" fill="#000" stroke="#000" stroke-width="0.15">α</text>
<rect x="596.4" y="422.8" width="7.2" height="7.2" fill="none" stroke="#3e484b" stroke-width="0.9"/>
<circle cx="600" cy="428" r="3.58" fill="none" stroke="#3e484b" stroke-width="0.9"/>
<text x="635.11" y="388.92" font-size="7.3" text-anchor="middle" fill="#000" stroke="#000" stroke-width="0.13">UB2</text>
<text x="635.11" y="397.85" font-size="7.3" text-anchor="middle" fill="#000" stroke="#000" stroke-width="0.13">radical</text>
<line x1="613.64" y1="377.85" x2="613.64" y2="381.85" stroke="rgba(6,24,30,0.78)" stroke-width="1"/>
<rect x="610.04" y="434.4" width="7.2" height="7.2" fill="none" stroke="#3e484b" stroke-width="0.9"/>
<circle cx="613.64" cy="426" r="3.58" fill="none" stroke="#3e484b" stroke-width="0.9"/>
<line x1="624.37" y1="377.85" x2="624.37" y2="381.85" stroke="rgba(6,24,30,0.78)" stroke-width="1"/>
<rect x="620.77" y="434" width="7.2" height="7.2" fill="none" stroke="#3e484b" stroke-width="0.9"/>
<circle cx="624.37" cy="425.1" r="3.58" fill="none" stroke="#3e484b" stroke-width="0.9"/>
<line x1="635.11" y1="377.85" x2="635.11" y2="381.85" stroke="rgba(6,24,30,0.78)" stroke-width="1"/>
<rect x="631.51" y="451.2" width="7.2" height="7.2" fill="none" stroke="#3e484b" stroke-width="0.9"/>
<circle cx="635.11" cy="444.6" r="3.58" fill="none" stroke="#3e484b" stroke-width="0.9"/>
<line x1="645.85" y1="377.85" x2="645.85" y2="381.85" stroke="rgba(6,24,30,0.78)" stroke-width="1"/>
<rect x="642.25" y="449.3" width="7.2" height="7.2" fill="none" stroke="#3e484b" stroke-width="0.9"/>
<circle cx="645.85" cy="440.5" r="3.58" fill="none" stroke="#3e484b" stroke-width="0.9"/>
<line x1="656.58" y1="377.85" x2="656.58" y2="381.85" stroke="rgba(6,24,30,0.78)" stroke-width="1"/>
<rect x="652.98" y="434.2" width="7.2" height="7.2" fill="none" stroke="#3e484b" stroke-width="0.9"/>
<circle cx="656.58" cy="425.8" r="3.58" fill="none" stroke="#3e484b" stroke-width="0.9"/>
<rect x="380.5" y="474.67" width="282.9" height="8.93" fill="#fc1009"/>
<rect x="380.5" y="483.6" width="282.9" height="8.93" fill="#57fc2a"/>
<line x1="380.5" y1="474.67" x2="663.4" y2="474.67" stroke="rgba(6,24,30,0.78)" stroke-width="0.9"/>
<line x1="380.5" y1="483.45" x2="663.4" y2="483.45" stroke="rgba(6,24,30,0.78)" stroke-width="0.8"/>
<line x1="380.5" y1="492.53" x2="663.4" y2="492.53" stroke="rgba(6,24,30,0.78)" stroke-width="0.9"/>
<line x1="376.9" y1="500.53" x2="380.5" y2="500.53" stroke="rgba(6,24,30,0.78)" stroke-width="1"/>
<line x1="663.4" y1="500.53" x2="667" y2="500.53" stroke="rgba(6,24,30,0.78)" stroke-width="1"/>
<line x1="376.9" y1="513.21" x2="380.5" y2="513.21" stroke="rgba(6,24,30,0.78)" stroke-width="1"/>
<line x1="663.4" y1="513.21" x2="667" y2="513.21" stroke="rgba(6,24,30,0.78)" stroke-width="1"/>
<line x1="376.9" y1="525.89" x2="380.5" y2="525.89" stroke="rgba(6,24,30,0.78)" stroke-width="1"/>
<line x1="663.4" y1="525.89" x2="667" y2="525.89" stroke="rgba(6,24,30,0.78)" stroke-width="1"/>
<line x1="376.9" y1="538.57" x2="380.5" y2="538.57" stroke="rgba(6,24,30,0.78)" stroke-width="1"/>
<line x1="663.4" y1="538.57" x2="667" y2="538.57" stroke="rgba(6,24,30,0.78)" stroke-width="1"/>
<line x1="376.9" y1="551.25" x2="380.5" y2="551.25" stroke="rgba(6,24,30,0.78)" stroke-width="1"/>
<line x1="663.4" y1="551.25" x2="667" y2="551.25" stroke="rgba(6,24,30,0.78)" stroke-width="1"/>
<line x1="376.9" y1="563.93" x2="380.5" y2="563.93" stroke="rgba(6,24,30,0.78)" stroke-width="1"/>
<line x1="663.4" y1="563.93" x2="667" y2="563.93" stroke="rgba(6,24,30,0.78)" stroke-width="1"/>
<text x="669.8" y="502.33" font-size="6.0" fill="#000" stroke="#000" stroke-width="0.15">0.030</text>
<text x="669.8" y="515.01" font-size="6.0" fill="#000" stroke="#000" stroke-width="0.15">0.025</text>
<text x="669.8" y="527.69" font-size="6.0" fill="#000" stroke="#000" stroke-width="0.15">0.020</text>
<text x="669.8" y="540.37" font-size="6.0" fill="#000" stroke="#000" stroke-width="0.15">0.015</text>
<text x="669.8" y="553.05" font-size="6.0" fill="#000" stroke="#000" stroke-width="0.15">0.010</text>
<text x="669.8" y="565.73" font-size="6.0" fill="#000" stroke="#000" stroke-width="0.15">0.005</text>
<text x="408.79" y="481.74" font-size="7.3" text-anchor="middle" fill="#000" stroke="#000" stroke-width="0.13">UB1</text>
<text x="408.79" y="490.67" font-size="7.3" text-anchor="middle" fill="#000" stroke="#000" stroke-width="0.13">unweighted</text>
<rect x="383.72" y="534" width="7.2" height="7.2" fill="none" stroke="#3e484b" stroke-width="0.9"/>
<circle cx="387.32" cy="511.3" r="3.58" fill="none" stroke="#3e484b" stroke-width="0.9"/>
<rect x="394.45" y="533.6" width="7.2" height="7.2" fill="none" stroke="#3e484b" stroke-width="0.9"/>
<circle cx="398.05" cy="510" r="3.58" fill="none" stroke="#3e484b" stroke-width="0.9"/>
<rect x="405.19" y="535.9" width="7.2" height="7.2" fill="none" stroke="#3e484b" stroke-width="0.9"/>
<circle cx="408.79" cy="511.9" r="3.58" fill="none" stroke="#3e484b" stroke-width="0.9"/>
<rect x="415.93" y="535.9" width="7.2" height="7.2" fill="none" stroke="#3e484b" stroke-width="0.9"/>
<circle cx="419.53" cy="511.7" r="3.58" fill="none" stroke="#3e484b" stroke-width="0.9"/>
<rect x="426.66" y="533.6" width="7.2" height="7.2" fill="none" stroke="#3e484b" stroke-width="0.9"/>
<circle cx="430.26" cy="510.9" r="3.58" fill="none" stroke="#3e484b" stroke-width="0.9"/>
<text x="465.37" y="481.74" font-size="7.3" text-anchor="middle" fill="#000" stroke="#000" stroke-width="0.13">UB1</text>
<text x="465.37" y="490.67" font-size="7.3" text-anchor="middle" fill="#000" stroke="#000" stroke-width="0.13">linear</text>
<rect x="440.3" y="532.4" width="7.2" height="7.2" fill="none" stroke="#3e484b" stroke-width="0.9"/>
<circle cx="443.9" cy="532.7" r="3.58" fill="none" stroke="#3e484b" stroke-width="0.9"/>
<rect x="451.03" y="532.4" width="7.2" height="7.2" fill="none" stroke="#3e484b" stroke-width="0.9"/>
<circle cx="454.63" cy="532.2" r="3.58" fill="none" stroke="#3e484b" stroke-width="0.9"/>
<rect x="461.77" y="541.9" width="7.2" height="7.2" fill="none" stroke="#3e484b" stroke-width="0.9"/>
<circle cx="465.37" cy="538.9" r="3.58" fill="none" stroke="#3e484b" stroke-width="0.9"/>
<rect x="472.51" y="541.9" width="7.2" height="7.2" fill="none" stroke="#3e484b" stroke-width="0.9"/>
<circle cx="476.11" cy="538.9" r="3.58" fill="none" stroke="#3e484b" stroke-width="0.9"/>
<rect x="483.24" y="532.4" width="7.2" height="7.2" fill="none" stroke="#3e484b" stroke-width="0.9"/>
<circle cx="486.84" cy="532.7" r="3.58" fill="none" stroke="#3e484b" stroke-width="0.9"/>
<text x="521.95" y="481.74" font-size="7.3" text-anchor="middle" fill="#000" stroke="#000" stroke-width="0.13">UB1</text>
<text x="521.95" y="490.67" font-size="7.3" text-anchor="middle" fill="#000" stroke="#000" stroke-width="0.13">quadratic</text>
<rect x="496.88" y="524.3" width="7.2" height="7.2" fill="none" stroke="#3e484b" stroke-width="0.9"/>
<circle cx="500.48" cy="528.1" r="3.58" fill="none" stroke="#3e484b" stroke-width="0.9"/>
<rect x="507.61" y="524.3" width="7.2" height="7.2" fill="none" stroke="#3e484b" stroke-width="0.9"/>
<circle cx="511.21" cy="528.1" r="3.58" fill="none" stroke="#3e484b" stroke-width="0.9"/>
<rect x="518.35" y="543.6" width="7.2" height="7.2" fill="none" stroke="#3e484b" stroke-width="0.9"/>
<circle cx="521.95" cy="546.6" r="3.58" fill="none" stroke="#3e484b" stroke-width="0.9"/>
<rect x="529.09" y="540.1" width="7.2" height="7.2" fill="none" stroke="#3e484b" stroke-width="0.9"/>
<circle cx="532.69" cy="543.2" r="3.58" fill="none" stroke="#3e484b" stroke-width="0.9"/>
<rect x="539.82" y="524.3" width="7.2" height="7.2" fill="none" stroke="#3e484b" stroke-width="0.9"/>
<circle cx="543.42" cy="528.3" r="3.58" fill="none" stroke="#3e484b" stroke-width="0.9"/>
<text x="578.53" y="481.74" font-size="7.3" text-anchor="middle" fill="#000" stroke="#000" stroke-width="0.13">UB1</text>
<text x="578.53" y="490.67" font-size="7.3" text-anchor="middle" fill="#000" stroke="#000" stroke-width="0.13">ordinal</text>
<rect x="553.46" y="526.6" width="7.2" height="7.2" fill="none" stroke="#3e484b" stroke-width="0.9"/>
<circle cx="557.06" cy="530.4" r="3.58" fill="none" stroke="#3e484b" stroke-width="0.9"/>
<rect x="564.19" y="526.6" width="7.2" height="7.2" fill="none" stroke="#3e484b" stroke-width="0.9"/>
<circle cx="567.79" cy="530.4" r="3.58" fill="none" stroke="#3e484b" stroke-width="0.9"/>
<rect x="574.93" y="543.4" width="7.2" height="7.2" fill="none" stroke="#3e484b" stroke-width="0.9"/>
<circle cx="578.53" cy="545.5" r="3.58" fill="none" stroke="#3e484b" stroke-width="0.9"/>
<rect x="585.67" y="540.7" width="7.2" height="7.2" fill="none" stroke="#3e484b" stroke-width="0.9"/>
<circle cx="589.27" cy="543.2" r="3.58" fill="none" stroke="#3e484b" stroke-width="0.9"/>
<rect x="596.4" y="526.6" width="7.2" height="7.2" fill="none" stroke="#3e484b" stroke-width="0.9"/>
<circle cx="600" cy="530.2" r="3.58" fill="none" stroke="#3e484b" stroke-width="0.9"/>
<text x="635.11" y="481.74" font-size="7.3" text-anchor="middle" fill="#000" stroke="#000" stroke-width="0.13">UB1</text>
<text x="635.11" y="490.67" font-size="7.3" text-anchor="middle" fill="#000" stroke="#000" stroke-width="0.13">radical</text>
<rect x="610.04" y="535.3" width="7.2" height="7.2" fill="none" stroke="#3e484b" stroke-width="0.9"/>
<circle cx="613.64" cy="527.3" r="3.58" fill="none" stroke="#3e484b" stroke-width="0.9"/>
<rect x="620.77" y="535.1" width="7.2" height="7.2" fill="none" stroke="#3e484b" stroke-width="0.9"/>
<circle cx="624.37" cy="526.4" r="3.58" fill="none" stroke="#3e484b" stroke-width="0.9"/>
<rect x="631.51" y="540.7" width="7.2" height="7.2" fill="none" stroke="#3e484b" stroke-width="0.9"/>
<circle cx="635.11" cy="529.3" r="3.58" fill="none" stroke="#3e484b" stroke-width="0.9"/>
<rect x="642.25" y="540.7" width="7.2" height="7.2" fill="none" stroke="#3e484b" stroke-width="0.9"/>
<circle cx="645.85" cy="529.1" r="3.58" fill="none" stroke="#3e484b" stroke-width="0.9"/>
<rect x="652.98" y="535.3" width="7.2" height="7.2" fill="none" stroke="#3e484b" stroke-width="0.9"/>
<circle cx="656.58" cy="527.1" r="3.58" fill="none" stroke="#3e484b" stroke-width="0.9"/>
<rect x="380.5" y="567.48" width="282.9" height="8.93" fill="#fc1009"/>
<rect x="380.5" y="576.41" width="282.9" height="8.93" fill="#57fc2a"/>
<line x1="380.5" y1="567.48" x2="663.4" y2="567.48" stroke="rgba(6,24,30,0.78)" stroke-width="0.9"/>
<line x1="380.5" y1="576.26" x2="663.4" y2="576.26" stroke="rgba(6,24,30,0.78)" stroke-width="0.8"/>
<line x1="380.5" y1="585.34" x2="663.4" y2="585.34" stroke="rgba(6,24,30,0.78)" stroke-width="0.9"/>
<line x1="376.9" y1="593.34" x2="380.5" y2="593.34" stroke="rgba(6,24,30,0.78)" stroke-width="1"/>
<line x1="663.4" y1="593.34" x2="667" y2="593.34" stroke="rgba(6,24,30,0.78)" stroke-width="1"/>
<line x1="376.9" y1="606.02" x2="380.5" y2="606.02" stroke="rgba(6,24,30,0.78)" stroke-width="1"/>
<line x1="663.4" y1="606.02" x2="667" y2="606.02" stroke="rgba(6,24,30,0.78)" stroke-width="1"/>
<line x1="376.9" y1="618.7" x2="380.5" y2="618.7" stroke="rgba(6,24,30,0.78)" stroke-width="1"/>
<line x1="663.4" y1="618.7" x2="667" y2="618.7" stroke="rgba(6,24,30,0.78)" stroke-width="1"/>
<line x1="376.9" y1="631.38" x2="380.5" y2="631.38" stroke="rgba(6,24,30,0.78)" stroke-width="1"/>
<line x1="663.4" y1="631.38" x2="667" y2="631.38" stroke="rgba(6,24,30,0.78)" stroke-width="1"/>
<line x1="376.9" y1="644.06" x2="380.5" y2="644.06" stroke="rgba(6,24,30,0.78)" stroke-width="1"/>
<line x1="663.4" y1="644.06" x2="667" y2="644.06" stroke="rgba(6,24,30,0.78)" stroke-width="1"/>
<line x1="376.9" y1="656.74" x2="380.5" y2="656.74" stroke="rgba(6,24,30,0.78)" stroke-width="1"/>
<line x1="663.4" y1="656.74" x2="667" y2="656.74" stroke="rgba(6,24,30,0.78)" stroke-width="1"/>
<text x="373.6" y="595.14" font-size="6.0" text-anchor="end" fill="#000" stroke="#000" stroke-width="0.15">0.030</text>
<text x="373.6" y="607.82" font-size="6.0" text-anchor="end" fill="#000" stroke="#000" stroke-width="0.15">0.025</text>
<text x="373.6" y="620.5" font-size="6.0" text-anchor="end" fill="#000" stroke="#000" stroke-width="0.15">0.020</text>
<text x="373.6" y="633.18" font-size="6.0" text-anchor="end" fill="#000" stroke="#000" stroke-width="0.15">0.015</text>
<text x="373.6" y="645.86" font-size="6.0" text-anchor="end" fill="#000" stroke="#000" stroke-width="0.15">0.010</text>
<text x="373.6" y="658.54" font-size="6.0" text-anchor="end" fill="#000" stroke="#000" stroke-width="0.15">0.005</text>
<text x="408.79" y="574.55" font-size="7.3" text-anchor="middle" fill="#000" stroke="#000" stroke-width="0.13">BL</text>
<text x="408.79" y="583.48" font-size="7.3" text-anchor="middle" fill="#000" stroke="#000" stroke-width="0.13">unweighted</text>
<line x1="387.32" y1="660.3" x2="387.32" y2="663.9" stroke="rgba(6,24,30,0.78)" stroke-width="1"/>
<text x="389.52" y="667.7" font-size="7.8" text-anchor="end" transform="rotate(-90 389.52 667.7)" fill="#000" stroke="#000" stroke-width="0.15">κ</text>
<rect x="383.72" y="630.6" width="7.2" height="7.2" fill="none" stroke="#3e484b" stroke-width="0.9"/>
<circle cx="387.32" cy="609.9" r="3.58" fill="none" stroke="#3e484b" stroke-width="0.9"/>
<line x1="398.05" y1="660.3" x2="398.05" y2="663.9" stroke="rgba(6,24,30,0.78)" stroke-width="1"/>
<text x="400.25" y="667.7" font-size="5.6" text-anchor="end" transform="rotate(-90 400.25 667.7)" fill="#000" stroke="#000" stroke-width="0.15">π</text>
<rect x="394.45" y="630.6" width="7.2" height="7.2" fill="none" stroke="#3e484b" stroke-width="0.9"/>
<circle cx="398.05" cy="608.9" r="3.58" fill="none" stroke="#3e484b" stroke-width="0.9"/>
<line x1="408.79" y1="660.3" x2="408.79" y2="663.9" stroke="rgba(6,24,30,0.78)" stroke-width="1"/>
<text x="410.99" y="667.7" font-size="6.6" text-anchor="end" transform="rotate(-90 410.99 667.7)" fill="#000" stroke="#000" stroke-width="0.15">AC2</text>
<rect x="405.19" y="630.6" width="7.2" height="7.2" fill="none" stroke="#3e484b" stroke-width="0.9"/>
<circle cx="408.79" cy="610.5" r="3.58" fill="none" stroke="#3e484b" stroke-width="0.9"/>
<line x1="419.53" y1="660.3" x2="419.53" y2="663.9" stroke="rgba(6,24,30,0.78)" stroke-width="1"/>
<text x="421.73" y="667.7" font-size="6.6" text-anchor="end" transform="rotate(-90 421.73 667.7)" fill="#000" stroke="#000" stroke-width="0.15">BP</text>
<rect x="415.93" y="630.6" width="7.2" height="7.2" fill="none" stroke="#3e484b" stroke-width="0.9"/>
<circle cx="419.53" cy="610.1" r="3.58" fill="none" stroke="#3e484b" stroke-width="0.9"/>
<line x1="430.26" y1="660.3" x2="430.26" y2="663.9" stroke="rgba(6,24,30,0.78)" stroke-width="1"/>
<text x="432.46" y="667.7" font-size="6.4" text-anchor="end" transform="rotate(-90 432.46 667.7)" fill="#000" stroke="#000" stroke-width="0.15">α</text>
<rect x="426.66" y="630.6" width="7.2" height="7.2" fill="none" stroke="#3e484b" stroke-width="0.9"/>
<circle cx="430.26" cy="609.7" r="3.58" fill="none" stroke="#3e484b" stroke-width="0.9"/>
<text x="465.37" y="574.55" font-size="7.3" text-anchor="middle" fill="#000" stroke="#000" stroke-width="0.13">BL</text>
<text x="465.37" y="583.48" font-size="7.3" text-anchor="middle" fill="#000" stroke="#000" stroke-width="0.13">linear</text>
<line x1="443.9" y1="660.3" x2="443.9" y2="663.9" stroke="rgba(6,24,30,0.78)" stroke-width="1"/>
<rect x="440.3" y="626.6" width="7.2" height="7.2" fill="none" stroke="#3e484b" stroke-width="0.9"/>
<circle cx="443.9" cy="625" r="3.58" fill="none" stroke="#3e484b" stroke-width="0.9"/>
<line x1="454.63" y1="660.3" x2="454.63" y2="663.9" stroke="rgba(6,24,30,0.78)" stroke-width="1"/>
<rect x="451.03" y="626.6" width="7.2" height="7.2" fill="none" stroke="#3e484b" stroke-width="0.9"/>
<circle cx="454.63" cy="624.6" r="3.58" fill="none" stroke="#3e484b" stroke-width="0.9"/>
<line x1="465.37" y1="660.3" x2="465.37" y2="663.9" stroke="rgba(6,24,30,0.78)" stroke-width="1"/>
<rect x="461.77" y="630.6" width="7.2" height="7.2" fill="none" stroke="#3e484b" stroke-width="0.9"/>
<circle cx="465.37" cy="629.4" r="3.58" fill="none" stroke="#3e484b" stroke-width="0.9"/>
<line x1="476.11" y1="660.3" x2="476.11" y2="663.9" stroke="rgba(6,24,30,0.78)" stroke-width="1"/>
<rect x="472.51" y="630.6" width="7.2" height="7.2" fill="none" stroke="#3e484b" stroke-width="0.9"/>
<circle cx="476.11" cy="629" r="3.58" fill="none" stroke="#3e484b" stroke-width="0.9"/>
<line x1="486.84" y1="660.3" x2="486.84" y2="663.9" stroke="rgba(6,24,30,0.78)" stroke-width="1"/>
<rect x="483.24" y="626.6" width="7.2" height="7.2" fill="none" stroke="#3e484b" stroke-width="0.9"/>
<circle cx="486.84" cy="625" r="3.58" fill="none" stroke="#3e484b" stroke-width="0.9"/>
<text x="521.95" y="574.55" font-size="7.3" text-anchor="middle" fill="#000" stroke="#000" stroke-width="0.13">BL</text>
<text x="521.95" y="583.48" font-size="7.3" text-anchor="middle" fill="#000" stroke="#000" stroke-width="0.13">quadratic</text>
<line x1="500.48" y1="660.3" x2="500.48" y2="663.9" stroke="rgba(6,24,30,0.78)" stroke-width="1"/>
<text x="502.68" y="667.7" font-size="7.8" text-anchor="end" transform="rotate(-90 502.68 667.7)" fill="#000" stroke="#000" stroke-width="0.15">κ</text>
<rect x="496.88" y="620.6" width="7.2" height="7.2" fill="none" stroke="#3e484b" stroke-width="0.9"/>
<circle cx="500.48" cy="623.8" r="3.58" fill="none" stroke="#3e484b" stroke-width="0.9"/>
<line x1="511.21" y1="660.3" x2="511.21" y2="663.9" stroke="rgba(6,24,30,0.78)" stroke-width="1"/>
<text x="513.41" y="667.7" font-size="5.6" text-anchor="end" transform="rotate(-90 513.41 667.7)" fill="#000" stroke="#000" stroke-width="0.15">π</text>
<rect x="507.61" y="620.6" width="7.2" height="7.2" fill="none" stroke="#3e484b" stroke-width="0.9"/>
<circle cx="511.21" cy="623.6" r="3.58" fill="none" stroke="#3e484b" stroke-width="0.9"/>
<line x1="521.95" y1="660.3" x2="521.95" y2="663.9" stroke="rgba(6,24,30,0.78)" stroke-width="1"/>
<text x="524.15" y="667.7" font-size="6.6" text-anchor="end" transform="rotate(-90 524.15 667.7)" fill="#000" stroke="#000" stroke-width="0.15">AC2</text>
<rect x="518.35" y="624.3" width="7.2" height="7.2" fill="none" stroke="#3e484b" stroke-width="0.9"/>
<circle cx="521.95" cy="627.9" r="3.58" fill="none" stroke="#3e484b" stroke-width="0.9"/>
<line x1="532.69" y1="660.3" x2="532.69" y2="663.9" stroke="rgba(6,24,30,0.78)" stroke-width="1"/>
<text x="534.89" y="667.7" font-size="6.6" text-anchor="end" transform="rotate(-90 534.89 667.7)" fill="#000" stroke="#000" stroke-width="0.15">BP</text>
<rect x="529.09" y="624.1" width="7.2" height="7.2" fill="none" stroke="#3e484b" stroke-width="0.9"/>
<circle cx="532.69" cy="627.5" r="3.58" fill="none" stroke="#3e484b" stroke-width="0.9"/>
<line x1="543.42" y1="660.3" x2="543.42" y2="663.9" stroke="rgba(6,24,30,0.78)" stroke-width="1"/>
<text x="545.62" y="667.7" font-size="6.4" text-anchor="end" transform="rotate(-90 545.62 667.7)" fill="#000" stroke="#000" stroke-width="0.15">α</text>
<rect x="539.82" y="620.6" width="7.2" height="7.2" fill="none" stroke="#3e484b" stroke-width="0.9"/>
<circle cx="543.42" cy="623.8" r="3.58" fill="none" stroke="#3e484b" stroke-width="0.9"/>
<text x="578.53" y="574.55" font-size="7.3" text-anchor="middle" fill="#000" stroke="#000" stroke-width="0.13">BL</text>
<text x="578.53" y="583.48" font-size="7.3" text-anchor="middle" fill="#000" stroke="#000" stroke-width="0.13">ordinal</text>
<line x1="557.06" y1="660.3" x2="557.06" y2="663.9" stroke="rgba(6,24,30,0.78)" stroke-width="1"/>
<rect x="553.46" y="622.1" width="7.2" height="7.2" fill="none" stroke="#3e484b" stroke-width="0.9"/>
<circle cx="557.06" cy="624.8" r="3.58" fill="none" stroke="#3e484b" stroke-width="0.9"/>
<line x1="567.79" y1="660.3" x2="567.79" y2="663.9" stroke="rgba(6,24,30,0.78)" stroke-width="1"/>
<rect x="564.19" y="622.1" width="7.2" height="7.2" fill="none" stroke="#3e484b" stroke-width="0.9"/>
<circle cx="567.79" cy="624.6" r="3.58" fill="none" stroke="#3e484b" stroke-width="0.9"/>
<line x1="578.53" y1="660.3" x2="578.53" y2="663.9" stroke="rgba(6,24,30,0.78)" stroke-width="1"/>
<rect x="574.93" y="625.8" width="7.2" height="7.2" fill="none" stroke="#3e484b" stroke-width="0.9"/>
<circle cx="578.53" cy="629.2" r="3.58" fill="none" stroke="#3e484b" stroke-width="0.9"/>
<line x1="589.27" y1="660.3" x2="589.27" y2="663.9" stroke="rgba(6,24,30,0.78)" stroke-width="1"/>
<rect x="585.67" y="625.8" width="7.2" height="7.2" fill="none" stroke="#3e484b" stroke-width="0.9"/>
<circle cx="589.27" cy="629" r="3.58" fill="none" stroke="#3e484b" stroke-width="0.9"/>
<line x1="600" y1="660.3" x2="600" y2="663.9" stroke="rgba(6,24,30,0.78)" stroke-width="1"/>
<rect x="596.4" y="622.1" width="7.2" height="7.2" fill="none" stroke="#3e484b" stroke-width="0.9"/>
<circle cx="600" cy="624.8" r="3.58" fill="none" stroke="#3e484b" stroke-width="0.9"/>
<text x="635.11" y="574.55" font-size="7.3" text-anchor="middle" fill="#000" stroke="#000" stroke-width="0.13">BL</text>
<text x="635.11" y="583.48" font-size="7.3" text-anchor="middle" fill="#000" stroke="#000" stroke-width="0.13">radical</text>
<line x1="613.64" y1="660.3" x2="613.64" y2="663.9" stroke="rgba(6,24,30,0.78)" stroke-width="1"/>
<text x="615.84" y="667.7" font-size="7.8" text-anchor="end" transform="rotate(-90 615.84 667.7)" fill="#000" stroke="#000" stroke-width="0.15">κ</text>
<rect x="610.04" y="630.4" width="7.2" height="7.2" fill="none" stroke="#3e484b" stroke-width="0.9"/>
<circle cx="613.64" cy="621.5" r="3.58" fill="none" stroke="#3e484b" stroke-width="0.9"/>
<line x1="624.37" y1="660.3" x2="624.37" y2="663.9" stroke="rgba(6,24,30,0.78)" stroke-width="1"/>
<text x="626.57" y="667.7" font-size="5.6" text-anchor="end" transform="rotate(-90 626.57 667.7)" fill="#000" stroke="#000" stroke-width="0.15">π</text>
<rect x="620.77" y="630.2" width="7.2" height="7.2" fill="none" stroke="#3e484b" stroke-width="0.9"/>
<circle cx="624.37" cy="620.7" r="3.58" fill="none" stroke="#3e484b" stroke-width="0.9"/>
<line x1="635.11" y1="660.3" x2="635.11" y2="663.9" stroke="rgba(6,24,30,0.78)" stroke-width="1"/>
<text x="637.31" y="667.7" font-size="6.6" text-anchor="end" transform="rotate(-90 637.31 667.7)" fill="#000" stroke="#000" stroke-width="0.15">AC2</text>
<rect x="631.51" y="632.4" width="7.2" height="7.2" fill="none" stroke="#3e484b" stroke-width="0.9"/>
<circle cx="635.11" cy="623.8" r="3.58" fill="none" stroke="#3e484b" stroke-width="0.9"/>
<line x1="645.85" y1="660.3" x2="645.85" y2="663.9" stroke="rgba(6,24,30,0.78)" stroke-width="1"/>
<text x="648.05" y="667.7" font-size="6.6" text-anchor="end" transform="rotate(-90 648.05 667.7)" fill="#000" stroke="#000" stroke-width="0.15">BP</text>
<rect x="642.25" y="632.4" width="7.2" height="7.2" fill="none" stroke="#3e484b" stroke-width="0.9"/>
<circle cx="645.85" cy="623.4" r="3.58" fill="none" stroke="#3e484b" stroke-width="0.9"/>
<line x1="656.58" y1="660.3" x2="656.58" y2="663.9" stroke="rgba(6,24,30,0.78)" stroke-width="1"/>
<text x="658.78" y="667.7" font-size="6.4" text-anchor="end" transform="rotate(-90 658.78 667.7)" fill="#000" stroke="#000" stroke-width="0.15">α</text>
<rect x="652.98" y="630.4" width="7.2" height="7.2" fill="none" stroke="#3e484b" stroke-width="0.9"/>
<circle cx="656.58" cy="621.3" r="3.58" fill="none" stroke="#3e484b" stroke-width="0.9"/>
<line x1="380.5" y1="381.85" x2="380.5" y2="660.3" stroke="rgba(6,24,30,0.78)" stroke-width="1"/>
<line x1="437.08" y1="381.85" x2="437.08" y2="660.3" stroke="rgba(6,24,30,0.78)" stroke-width="1"/>
<line x1="493.66" y1="381.85" x2="493.66" y2="660.3" stroke="rgba(6,24,30,0.78)" stroke-width="1"/>
<line x1="550.24" y1="381.85" x2="550.24" y2="660.3" stroke="rgba(6,24,30,0.78)" stroke-width="1"/>
<line x1="606.82" y1="381.85" x2="606.82" y2="660.3" stroke="rgba(6,24,30,0.78)" stroke-width="1"/>
<line x1="663.4" y1="381.85" x2="663.4" y2="660.3" stroke="rgba(6,24,30,0.78)" stroke-width="1"/>
<line x1="380" y1="660.3" x2="663.9" y2="660.3" stroke="rgba(6,24,30,0.78)" stroke-width="1"/>
<text x="521.95" y="692.6" font-size="7.4" text-anchor="middle" fill="#000" stroke="#000" stroke-width="0.15">Agreement Coefficients</text>
<text x="528.5" y="709.2" font-size="11.4" text-anchor="middle" fill="#000" stroke="#000" stroke-width="0.15">(d) 6x6</text>
<text x="351" y="530" font-size="7.1" text-anchor="middle" transform="rotate(-90 351 530)" fill="#000" stroke="#000" stroke-width="0.15">MAE</text>
</g>
<g id="legend">
<text x="361" y="339.7" font-size="5.2" text-anchor="middle" font-weight="bold" fill="#000" stroke="#000" stroke-width="0.15">Methods</text>
<text x="325.9" y="348.1" font-size="6.8" fill="#000" stroke="#000" stroke-width="0.15">No grey areas</text>
<text x="325.9" y="354.8" font-size="6.8" fill="#000" stroke="#000" stroke-width="0.15">Having grey areas</text>
<rect x="388.6" y="341.8" width="7.2" height="7.2" fill="none" stroke="#3e484b" stroke-width="0.9"/>
<circle cx="392.2" cy="352.3" r="3.58" fill="none" stroke="#3e484b" stroke-width="0.9"/>
</g>
</g>
</svg>
</body></html>
